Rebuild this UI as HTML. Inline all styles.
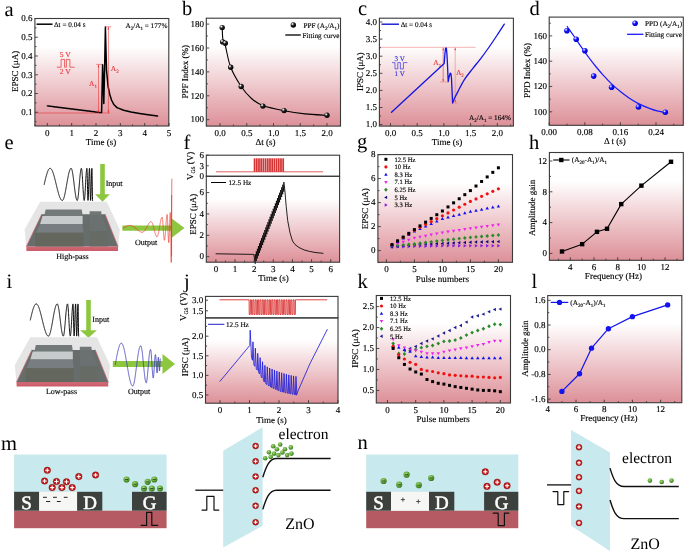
<!DOCTYPE html>
<html><head><meta charset="utf-8"><style>
html,body{margin:0;padding:0;background:#fff;}
svg{display:block;will-change:transform;}
</style></head><body>
<svg width="685" height="553" viewBox="0 0 685 553" text-rendering="geometricPrecision">
<rect x="0" y="0" width="685" height="553" fill="#fff"/>
<defs>
<linearGradient id="grad" x1="0" y1="0" x2="0" y2="1">
<stop offset="0" stop-color="#ffffff"/>
<stop offset="0.26" stop-color="#ffffff"/>
<stop offset="1" stop-color="#dd9098"/>
</linearGradient>
<radialGradient id="sph_black" cx="0.35" cy="0.32" r="0.7">
<stop offset="0" stop-color="#ffffff"/>
<stop offset="0.18" stop-color="#bbbbbb"/>
<stop offset="0.4" stop-color="#222"/>
<stop offset="1" stop-color="#000"/>
</radialGradient>
<radialGradient id="sph_blue" cx="0.35" cy="0.32" r="0.7">
<stop offset="0" stop-color="#ffffff"/>
<stop offset="0.18" stop-color="#9a9aff"/>
<stop offset="0.42" stop-color="#1414ff"/>
<stop offset="1" stop-color="#0000c8"/>
</radialGradient>
<radialGradient id="ion_red" cx="0.5" cy="0.5" r="0.5">
<stop offset="0" stop-color="#e03030"/>
<stop offset="0.75" stop-color="#c41a1a"/>
<stop offset="1" stop-color="#8a0f0f"/>
</radialGradient>
<radialGradient id="ion_green" cx="0.4" cy="0.35" r="0.6">
<stop offset="0" stop-color="#a8d878"/>
<stop offset="0.6" stop-color="#5fa83a"/>
<stop offset="1" stop-color="#3e7a22"/>
</radialGradient>
</defs>
<rect x="34.9" y="18.5" width="133.9" height="107.5" fill="url(#grad)" stroke="none" stroke-width="1"/>
<line x1="34.9" y1="113" x2="110" y2="113" stroke="#e8383a" stroke-width="0.6"/>
<polyline points="47.3,105.88 48.64,106.04 49.98,106.21 51.32,106.38 52.66,106.55 54,106.72 55.34,106.89 56.67,107.06 58.01,107.22 59.35,107.39 60.69,107.56 62.03,107.73 63.37,107.9 64.71,108.07 66.05,108.24 67.39,108.41 68.73,108.57 70.07,108.74 71.41,108.91 72.75,109.08 74.08,109.25 75.42,109.42 76.76,109.59 78.1,109.76 79.44,109.92 80.78,110.09 82.12,110.26 83.46,110.43 84.8,110.6 86.14,110.77 87.48,110.94 88.82,111.11 90.16,111.27 91.5,111.44 92.83,111.61 94.17,111.78 95.51,111.95 96.85,112.12 98.19,112.29 99.53,112.46 100.87,112.62 101.6,112.6 102.6,64.7 103.2,80 103.8,103.5 104.6,70 105.4,26.9 106.5,70 108,86 109.8,94.5 111.5,100 113.8,104.5 117,107.6 123.7,110.2 131,112 139.6,113.5 148,114.8 157.5,116.1" fill="none" stroke="#000" stroke-width="1.5" stroke-linejoin="round" stroke-linecap="round"/>
<line x1="98.5" y1="65" x2="98.5" y2="112.5" stroke="#e8383a" stroke-width="0.6"/>
<line x1="96.3" y1="64.4" x2="102.3" y2="64.4" stroke="#e8383a" stroke-width="0.6"/>
<polygon points="98.5,64.6 97.6,67.2 99.4,67.2" fill="#e8383a" stroke="none" stroke-width="1"/>
<polygon points="98.5,112.8 97.6,110.2 99.4,110.2" fill="#e8383a" stroke="none" stroke-width="1"/>
<line x1="108.4" y1="27" x2="108.4" y2="113" stroke="#e8383a" stroke-width="0.6"/>
<line x1="104.9" y1="26.8" x2="111.2" y2="26.8" stroke="#e8383a" stroke-width="0.6"/>
<polygon points="108.4,27 107.5,29.6 109.3,29.6" fill="#e8383a" stroke="none" stroke-width="1"/>
<polygon points="108.4,113.2 107.5,110.6 109.3,110.6" fill="#e8383a" stroke="none" stroke-width="1"/>
<text x="89" y="86.3" font-family="Liberation Serif" font-size="7.5" text-anchor="start" fill="#e8383a" stroke="#e8383a" stroke-width="0.14">A<tspan font-size="5" baseline-shift="-1.5">1</tspan></text>
<text x="110.8" y="71" font-family="Liberation Serif" font-size="7.5" text-anchor="start" fill="#e8383a" stroke="#e8383a" stroke-width="0.14">A<tspan font-size="5" baseline-shift="-1.5">2</tspan></text>
<text x="65.3" y="56.6" font-family="Liberation Serif" font-size="7.6" text-anchor="middle" fill="#e8383a" stroke="#e8383a" stroke-width="0.14">5 V</text>
<polyline points="57.2,67.2 61.1,67.2 61.1,59.4 64.6,59.4 64.6,67.2 66.4,67.2 66.4,59.4 69.9,59.4 69.9,67.2 74.4,67.2" fill="none" stroke="#e8383a" stroke-width="0.75" stroke-linejoin="round" stroke-linecap="round"/>
<text x="65.3" y="74.3" font-family="Liberation Serif" font-size="7.6" text-anchor="middle" fill="#e8383a" stroke="#e8383a" stroke-width="0.14">2 V</text>
<line x1="36.5" y1="24.2" x2="52.5" y2="24.2" stroke="#000" stroke-width="1.5"/>
<text x="54" y="26.7" font-family="Liberation Serif" font-size="7.2" text-anchor="start" fill="#000" stroke="#000" stroke-width="0.14">Δt = 0.04 s</text>
<text x="167.4" y="27.5" font-family="Liberation Serif" font-size="7.2" text-anchor="end" fill="#000" stroke="#000" stroke-width="0.14">A<tspan font-size="5" baseline-shift="-1.5">2</tspan>/A<tspan font-size="5" baseline-shift="-1.5">1</tspan> = 177%</text>
<line x1="47.3" y1="126" x2="47.3" y2="123" stroke="#3a3a3a" stroke-width="0.9"/>
<line x1="71.65" y1="126" x2="71.65" y2="123" stroke="#3a3a3a" stroke-width="0.9"/>
<line x1="96" y1="126" x2="96" y2="123" stroke="#3a3a3a" stroke-width="0.9"/>
<line x1="120.35" y1="126" x2="120.35" y2="123" stroke="#3a3a3a" stroke-width="0.9"/>
<line x1="144.7" y1="126" x2="144.7" y2="123" stroke="#3a3a3a" stroke-width="0.9"/>
<line x1="169.05" y1="126" x2="169.05" y2="123" stroke="#3a3a3a" stroke-width="0.9"/>
<line x1="35.12" y1="126" x2="35.12" y2="124.4" stroke="#3a3a3a" stroke-width="0.9"/>
<line x1="59.47" y1="126" x2="59.47" y2="124.4" stroke="#3a3a3a" stroke-width="0.9"/>
<line x1="83.82" y1="126" x2="83.82" y2="124.4" stroke="#3a3a3a" stroke-width="0.9"/>
<line x1="108.17" y1="126" x2="108.17" y2="124.4" stroke="#3a3a3a" stroke-width="0.9"/>
<line x1="132.52" y1="126" x2="132.52" y2="124.4" stroke="#3a3a3a" stroke-width="0.9"/>
<line x1="156.88" y1="126" x2="156.88" y2="124.4" stroke="#3a3a3a" stroke-width="0.9"/>
<line x1="34.9" y1="112.25" x2="37.9" y2="112.25" stroke="#3a3a3a" stroke-width="0.9"/>
<line x1="34.9" y1="93.5" x2="37.9" y2="93.5" stroke="#3a3a3a" stroke-width="0.9"/>
<line x1="34.9" y1="74.75" x2="37.9" y2="74.75" stroke="#3a3a3a" stroke-width="0.9"/>
<line x1="34.9" y1="56" x2="37.9" y2="56" stroke="#3a3a3a" stroke-width="0.9"/>
<line x1="34.9" y1="37.25" x2="37.9" y2="37.25" stroke="#3a3a3a" stroke-width="0.9"/>
<line x1="34.9" y1="18.5" x2="37.9" y2="18.5" stroke="#3a3a3a" stroke-width="0.9"/>
<line x1="34.9" y1="121.62" x2="36.5" y2="121.62" stroke="#3a3a3a" stroke-width="0.9"/>
<line x1="34.9" y1="102.87" x2="36.5" y2="102.87" stroke="#3a3a3a" stroke-width="0.9"/>
<line x1="34.9" y1="84.12" x2="36.5" y2="84.12" stroke="#3a3a3a" stroke-width="0.9"/>
<line x1="34.9" y1="65.38" x2="36.5" y2="65.38" stroke="#3a3a3a" stroke-width="0.9"/>
<line x1="34.9" y1="46.62" x2="36.5" y2="46.62" stroke="#3a3a3a" stroke-width="0.9"/>
<line x1="34.9" y1="27.87" x2="36.5" y2="27.87" stroke="#3a3a3a" stroke-width="0.9"/>
<rect x="34.9" y="18.5" width="133.9" height="107.5" fill="none" stroke="#3a3a3a" stroke-width="1.1"/>
<text x="47.3" y="135.5" font-family="Liberation Serif" font-size="9" text-anchor="middle" fill="#000" stroke="#000" stroke-width="0.14">0</text>
<text x="71.65" y="135.5" font-family="Liberation Serif" font-size="9" text-anchor="middle" fill="#000" stroke="#000" stroke-width="0.14">1</text>
<text x="96" y="135.5" font-family="Liberation Serif" font-size="9" text-anchor="middle" fill="#000" stroke="#000" stroke-width="0.14">2</text>
<text x="120.35" y="135.5" font-family="Liberation Serif" font-size="9" text-anchor="middle" fill="#000" stroke="#000" stroke-width="0.14">3</text>
<text x="144.7" y="135.5" font-family="Liberation Serif" font-size="9" text-anchor="middle" fill="#000" stroke="#000" stroke-width="0.14">4</text>
<text x="169.05" y="135.5" font-family="Liberation Serif" font-size="9" text-anchor="middle" fill="#000" stroke="#000" stroke-width="0.14">5</text>
<text x="32.6" y="115.04" font-family="Liberation Serif" font-size="9" text-anchor="end" fill="#000" stroke="#000" stroke-width="0.14">0.1</text>
<text x="32.6" y="96.29" font-family="Liberation Serif" font-size="9" text-anchor="end" fill="#000" stroke="#000" stroke-width="0.14">0.2</text>
<text x="32.6" y="77.54" font-family="Liberation Serif" font-size="9" text-anchor="end" fill="#000" stroke="#000" stroke-width="0.14">0.3</text>
<text x="32.6" y="58.79" font-family="Liberation Serif" font-size="9" text-anchor="end" fill="#000" stroke="#000" stroke-width="0.14">0.4</text>
<text x="32.6" y="40.04" font-family="Liberation Serif" font-size="9" text-anchor="end" fill="#000" stroke="#000" stroke-width="0.14">0.5</text>
<text x="32.6" y="21.29" font-family="Liberation Serif" font-size="9" text-anchor="end" fill="#000" stroke="#000" stroke-width="0.14">0.6</text>
<text x="18.5" y="71.4" font-family="Liberation Serif" font-size="9" text-anchor="middle" fill="#000" transform="rotate(-90 18.5 71.4)" stroke="#000" stroke-width="0.14">EPSC (μA)</text>
<text x="101" y="145.4" font-family="Liberation Serif" font-size="9" text-anchor="middle" fill="#000" stroke="#000" stroke-width="0.14">Time (s)</text>
<text x="4.5" y="15.7" font-family="Liberation Serif" font-size="20.5" text-anchor="start" fill="#000">a</text>
<rect x="206.3" y="18.2" width="134.2" height="107.9" fill="url(#grad)" stroke="none" stroke-width="1"/>
<path d="M222.2,27.6 C222.32,29.58 222.38,36.52 222.9,39.5 C223.42,42.48 224,40.87 225.3,45.5 C226.6,50.13 228.05,60.47 230.7,67.3 C233.35,74.13 237.73,81.3 241.2,86.5 C244.67,91.7 247.88,95.32 251.5,98.5 C255.12,101.68 257.47,103.55 262.9,105.6 C268.33,107.65 277.08,109.42 284.1,110.8 C291.12,112.18 297.85,113.15 305,113.9 C312.15,114.65 323.33,115.07 327,115.3" fill="none" stroke="#000" stroke-width="1.1" stroke-linejoin="round" stroke-linecap="round"/>
<circle cx="222.2" cy="27.6" r="2.7" fill="url(#sph_black)"/>
<circle cx="222.7" cy="41.9" r="2.7" fill="url(#sph_black)"/>
<circle cx="225.3" cy="43.2" r="2.7" fill="url(#sph_black)"/>
<circle cx="230.7" cy="67.3" r="2.7" fill="url(#sph_black)"/>
<circle cx="241.2" cy="86.5" r="2.7" fill="url(#sph_black)"/>
<circle cx="262.9" cy="106.1" r="2.7" fill="url(#sph_black)"/>
<circle cx="284.1" cy="110.6" r="2.7" fill="url(#sph_black)"/>
<circle cx="327" cy="115.3" r="2.7" fill="url(#sph_black)"/>
<circle cx="293.3" cy="25" r="2.7" fill="url(#sph_black)"/>
<text x="303.5" y="27.6" font-family="Liberation Serif" font-size="7.2" text-anchor="start" fill="#000" stroke="#000" stroke-width="0.14">PPF (A<tspan font-size="5" baseline-shift="-1.5">2</tspan>/A<tspan font-size="5" baseline-shift="-1.5">1</tspan>)</text>
<line x1="285.3" y1="35" x2="300.8" y2="35" stroke="#000" stroke-width="1.3"/>
<text x="302.5" y="37.5" font-family="Liberation Serif" font-size="7.2" text-anchor="start" fill="#000" stroke="#000" stroke-width="0.14">Fitting curve</text>
<line x1="220" y1="126.1" x2="220" y2="123.1" stroke="#3a3a3a" stroke-width="0.9"/>
<line x1="246.75" y1="126.1" x2="246.75" y2="123.1" stroke="#3a3a3a" stroke-width="0.9"/>
<line x1="273.5" y1="126.1" x2="273.5" y2="123.1" stroke="#3a3a3a" stroke-width="0.9"/>
<line x1="300.25" y1="126.1" x2="300.25" y2="123.1" stroke="#3a3a3a" stroke-width="0.9"/>
<line x1="327" y1="126.1" x2="327" y2="123.1" stroke="#3a3a3a" stroke-width="0.9"/>
<line x1="233.38" y1="126.1" x2="233.38" y2="124.5" stroke="#3a3a3a" stroke-width="0.9"/>
<line x1="260.12" y1="126.1" x2="260.12" y2="124.5" stroke="#3a3a3a" stroke-width="0.9"/>
<line x1="286.88" y1="126.1" x2="286.88" y2="124.5" stroke="#3a3a3a" stroke-width="0.9"/>
<line x1="313.62" y1="126.1" x2="313.62" y2="124.5" stroke="#3a3a3a" stroke-width="0.9"/>
<line x1="340.38" y1="126.1" x2="340.38" y2="124.5" stroke="#3a3a3a" stroke-width="0.9"/>
<line x1="206.62" y1="126.1" x2="206.62" y2="124.5" stroke="#3a3a3a" stroke-width="0.9"/>
<line x1="206.3" y1="119.7" x2="209.3" y2="119.7" stroke="#3a3a3a" stroke-width="0.9"/>
<line x1="206.3" y1="95.8" x2="209.3" y2="95.8" stroke="#3a3a3a" stroke-width="0.9"/>
<line x1="206.3" y1="71.9" x2="209.3" y2="71.9" stroke="#3a3a3a" stroke-width="0.9"/>
<line x1="206.3" y1="48" x2="209.3" y2="48" stroke="#3a3a3a" stroke-width="0.9"/>
<line x1="206.3" y1="24.1" x2="209.3" y2="24.1" stroke="#3a3a3a" stroke-width="0.9"/>
<line x1="206.3" y1="107.75" x2="207.9" y2="107.75" stroke="#3a3a3a" stroke-width="0.9"/>
<line x1="206.3" y1="83.85" x2="207.9" y2="83.85" stroke="#3a3a3a" stroke-width="0.9"/>
<line x1="206.3" y1="59.95" x2="207.9" y2="59.95" stroke="#3a3a3a" stroke-width="0.9"/>
<line x1="206.3" y1="36.05" x2="207.9" y2="36.05" stroke="#3a3a3a" stroke-width="0.9"/>
<rect x="206.3" y="18.2" width="134.2" height="107.9" fill="none" stroke="#3a3a3a" stroke-width="1.1"/>
<text x="220" y="135.6" font-family="Liberation Serif" font-size="9" text-anchor="middle" fill="#000" stroke="#000" stroke-width="0.14">0.0</text>
<text x="246.75" y="135.6" font-family="Liberation Serif" font-size="9" text-anchor="middle" fill="#000" stroke="#000" stroke-width="0.14">0.5</text>
<text x="273.5" y="135.6" font-family="Liberation Serif" font-size="9" text-anchor="middle" fill="#000" stroke="#000" stroke-width="0.14">1.0</text>
<text x="300.25" y="135.6" font-family="Liberation Serif" font-size="9" text-anchor="middle" fill="#000" stroke="#000" stroke-width="0.14">1.5</text>
<text x="327" y="135.6" font-family="Liberation Serif" font-size="9" text-anchor="middle" fill="#000" stroke="#000" stroke-width="0.14">2.0</text>
<text x="204" y="122.49" font-family="Liberation Serif" font-size="9" text-anchor="end" fill="#000" stroke="#000" stroke-width="0.14">100</text>
<text x="204" y="98.59" font-family="Liberation Serif" font-size="9" text-anchor="end" fill="#000" stroke="#000" stroke-width="0.14">120</text>
<text x="204" y="74.69" font-family="Liberation Serif" font-size="9" text-anchor="end" fill="#000" stroke="#000" stroke-width="0.14">140</text>
<text x="204" y="50.79" font-family="Liberation Serif" font-size="9" text-anchor="end" fill="#000" stroke="#000" stroke-width="0.14">160</text>
<text x="204" y="26.89" font-family="Liberation Serif" font-size="9" text-anchor="end" fill="#000" stroke="#000" stroke-width="0.14">180</text>
<text x="188" y="71.7" font-family="Liberation Serif" font-size="9" text-anchor="middle" fill="#000" transform="rotate(-90 188 71.7)" stroke="#000" stroke-width="0.14">PPF Index (%)</text>
<text x="265.5" y="145" font-family="Liberation Serif" font-size="9" text-anchor="middle" fill="#000" stroke="#000" stroke-width="0.14">Δt (s)</text>
<text x="182" y="14.9" font-family="Liberation Serif" font-size="20.5" text-anchor="start" fill="#000">b</text>
<rect x="379.4" y="18.2" width="134" height="107.9" fill="url(#grad)" stroke="none" stroke-width="1"/>
<line x1="380" y1="47.3" x2="475.6" y2="47.3" stroke="#f08080" stroke-width="0.6"/>
<line x1="439.9" y1="82" x2="447.9" y2="82" stroke="#f08080" stroke-width="0.6"/>
<line x1="451.5" y1="103" x2="458.1" y2="103" stroke="#f08080" stroke-width="0.6"/>
<line x1="443.2" y1="47.8" x2="443.2" y2="81.6" stroke="#e8383a" stroke-width="0.6"/>
<polygon points="443.2,47.6 442.4,50.2 444,50.2" fill="#e8383a" stroke="none" stroke-width="1"/>
<polygon points="443.2,81.8 442.4,79.2 444,79.2" fill="#e8383a" stroke="none" stroke-width="1"/>
<line x1="455.2" y1="47.8" x2="455.2" y2="102.6" stroke="#f08080" stroke-width="0.6"/>
<polygon points="455.2,47.6 454.4,50.2 456,50.2" fill="#e8383a" stroke="none" stroke-width="1"/>
<polygon points="455.2,102.8 454.4,100.2 456,100.2" fill="#e8383a" stroke="none" stroke-width="1"/>
<text x="433.3" y="64.6" font-family="Liberation Serif" font-size="7.5" text-anchor="start" fill="#e8383a" stroke="#e8383a" stroke-width="0.14">A<tspan font-size="5" baseline-shift="-1.5">1</tspan></text>
<text x="455.9" y="74.8" font-family="Liberation Serif" font-size="7.5" text-anchor="start" fill="#e8383a" stroke="#e8383a" stroke-width="0.14">A<tspan font-size="5" baseline-shift="-1.5">2</tspan></text>
<polyline points="391.5,112.2 444.2,63.4 445.1,52 445.6,48.2 446.4,48.2 447,55 447.5,65 448.2,81.6 449.1,77 450.2,73.2 450.9,73.5 451.5,78.5 452,90 452.6,102.8" fill="none" stroke="#1414e0" stroke-width="1.3" stroke-linejoin="round" stroke-linecap="round"/>
<path d="M452.6,102.8 C453,101.88 454.12,99.17 455,97.3 C455.88,95.43 456.33,94.55 457.9,91.6 C459.47,88.65 461.97,83.4 464.4,79.6 C466.83,75.8 469.78,72.3 472.5,68.8 C475.22,65.3 477.98,62.15 480.7,58.6 C483.42,55.05 486.1,51.35 488.8,47.5 C491.5,43.65 494.32,39.4 496.9,35.5 C499.48,31.6 503.07,26 504.3,24.1" fill="none" stroke="#1414e0" stroke-width="1.3" stroke-linejoin="round" stroke-linecap="round"/>
<text x="399.7" y="60.6" font-family="Liberation Serif" font-size="7" text-anchor="middle" fill="#3030e0" stroke="#3030e0" stroke-width="0.14">3 V</text>
<polyline points="392.4,62.6 395,62.6 395,68.9 397.8,68.9 397.8,62.6 400.4,62.6 400.4,68.9 403.4,68.9 403.4,62.6 407,62.6" fill="none" stroke="#3030e0" stroke-width="0.7" stroke-linejoin="round" stroke-linecap="round"/>
<text x="399.7" y="76.2" font-family="Liberation Serif" font-size="7" text-anchor="middle" fill="#3030e0" stroke="#3030e0" stroke-width="0.14">1 V</text>
<line x1="381.5" y1="24.2" x2="399" y2="24.2" stroke="#1414d2" stroke-width="1.4"/>
<text x="400.7" y="26.7" font-family="Liberation Serif" font-size="7.2" text-anchor="start" fill="#000" stroke="#000" stroke-width="0.14">Δt = 0.04 s</text>
<text x="510.9" y="120.2" font-family="Liberation Serif" font-size="7.2" text-anchor="end" fill="#000" stroke="#000" stroke-width="0.14">A<tspan font-size="5" baseline-shift="-1.5">2</tspan>/A<tspan font-size="5" baseline-shift="-1.5">1</tspan> = 164%</text>
<line x1="390.5" y1="126.1" x2="390.5" y2="123.1" stroke="#3a3a3a" stroke-width="0.9"/>
<line x1="417.2" y1="126.1" x2="417.2" y2="123.1" stroke="#3a3a3a" stroke-width="0.9"/>
<line x1="443.9" y1="126.1" x2="443.9" y2="123.1" stroke="#3a3a3a" stroke-width="0.9"/>
<line x1="470.6" y1="126.1" x2="470.6" y2="123.1" stroke="#3a3a3a" stroke-width="0.9"/>
<line x1="497.3" y1="126.1" x2="497.3" y2="123.1" stroke="#3a3a3a" stroke-width="0.9"/>
<line x1="403.85" y1="126.1" x2="403.85" y2="124.5" stroke="#3a3a3a" stroke-width="0.9"/>
<line x1="430.55" y1="126.1" x2="430.55" y2="124.5" stroke="#3a3a3a" stroke-width="0.9"/>
<line x1="457.25" y1="126.1" x2="457.25" y2="124.5" stroke="#3a3a3a" stroke-width="0.9"/>
<line x1="483.95" y1="126.1" x2="483.95" y2="124.5" stroke="#3a3a3a" stroke-width="0.9"/>
<line x1="510.65" y1="126.1" x2="510.65" y2="124.5" stroke="#3a3a3a" stroke-width="0.9"/>
<line x1="379.4" y1="124.6" x2="382.4" y2="124.6" stroke="#3a3a3a" stroke-width="0.9"/>
<line x1="379.4" y1="107.5" x2="382.4" y2="107.5" stroke="#3a3a3a" stroke-width="0.9"/>
<line x1="379.4" y1="90.4" x2="382.4" y2="90.4" stroke="#3a3a3a" stroke-width="0.9"/>
<line x1="379.4" y1="73.3" x2="382.4" y2="73.3" stroke="#3a3a3a" stroke-width="0.9"/>
<line x1="379.4" y1="56.2" x2="382.4" y2="56.2" stroke="#3a3a3a" stroke-width="0.9"/>
<line x1="379.4" y1="39.1" x2="382.4" y2="39.1" stroke="#3a3a3a" stroke-width="0.9"/>
<line x1="379.4" y1="22" x2="382.4" y2="22" stroke="#3a3a3a" stroke-width="0.9"/>
<line x1="379.4" y1="116.05" x2="381" y2="116.05" stroke="#3a3a3a" stroke-width="0.9"/>
<line x1="379.4" y1="98.95" x2="381" y2="98.95" stroke="#3a3a3a" stroke-width="0.9"/>
<line x1="379.4" y1="81.85" x2="381" y2="81.85" stroke="#3a3a3a" stroke-width="0.9"/>
<line x1="379.4" y1="64.75" x2="381" y2="64.75" stroke="#3a3a3a" stroke-width="0.9"/>
<line x1="379.4" y1="47.65" x2="381" y2="47.65" stroke="#3a3a3a" stroke-width="0.9"/>
<line x1="379.4" y1="30.55" x2="381" y2="30.55" stroke="#3a3a3a" stroke-width="0.9"/>
<rect x="379.4" y="18.2" width="134" height="107.9" fill="none" stroke="#3a3a3a" stroke-width="1.1"/>
<text x="390.5" y="135.6" font-family="Liberation Serif" font-size="9" text-anchor="middle" fill="#000" stroke="#000" stroke-width="0.14">0.0</text>
<text x="417.2" y="135.6" font-family="Liberation Serif" font-size="9" text-anchor="middle" fill="#000" stroke="#000" stroke-width="0.14">0.5</text>
<text x="443.9" y="135.6" font-family="Liberation Serif" font-size="9" text-anchor="middle" fill="#000" stroke="#000" stroke-width="0.14">1.0</text>
<text x="470.6" y="135.6" font-family="Liberation Serif" font-size="9" text-anchor="middle" fill="#000" stroke="#000" stroke-width="0.14">1.5</text>
<text x="497.3" y="135.6" font-family="Liberation Serif" font-size="9" text-anchor="middle" fill="#000" stroke="#000" stroke-width="0.14">2.0</text>
<text x="377.1" y="127.39" font-family="Liberation Serif" font-size="9" text-anchor="end" fill="#000" stroke="#000" stroke-width="0.14">1.0</text>
<text x="377.1" y="110.29" font-family="Liberation Serif" font-size="9" text-anchor="end" fill="#000" stroke="#000" stroke-width="0.14">1.5</text>
<text x="377.1" y="93.19" font-family="Liberation Serif" font-size="9" text-anchor="end" fill="#000" stroke="#000" stroke-width="0.14">2.0</text>
<text x="377.1" y="76.09" font-family="Liberation Serif" font-size="9" text-anchor="end" fill="#000" stroke="#000" stroke-width="0.14">2.5</text>
<text x="377.1" y="58.99" font-family="Liberation Serif" font-size="9" text-anchor="end" fill="#000" stroke="#000" stroke-width="0.14">3.0</text>
<text x="377.1" y="41.89" font-family="Liberation Serif" font-size="9" text-anchor="end" fill="#000" stroke="#000" stroke-width="0.14">3.5</text>
<text x="377.1" y="24.79" font-family="Liberation Serif" font-size="9" text-anchor="end" fill="#000" stroke="#000" stroke-width="0.14">4.0</text>
<text x="363" y="71.7" font-family="Liberation Serif" font-size="9" text-anchor="middle" fill="#000" transform="rotate(-90 363 71.7)" stroke="#000" stroke-width="0.14">IPSC (μA)</text>
<text x="447" y="145" font-family="Liberation Serif" font-size="9" text-anchor="middle" fill="#000" stroke="#000" stroke-width="0.14">Time (s)</text>
<text x="358" y="15" font-family="Liberation Serif" font-size="20.5" text-anchor="start" fill="#000">c</text>
<rect x="549.2" y="17.1" width="134.1" height="108.2" fill="url(#grad)" stroke="none" stroke-width="1"/>
<path d="M567.2,26.5 C568.42,28.25 572.08,33.48 574.5,37 C576.92,40.52 579.3,44.17 581.7,47.6 C584.1,51.03 586.48,54.37 588.9,57.6 C591.32,60.83 593.78,64.05 596.2,67 C598.62,69.95 600.88,72.53 603.4,75.3 C605.92,78.07 608.42,80.85 611.3,83.6 C614.18,86.35 617.68,89.37 620.7,91.8 C623.72,94.23 626.43,96.23 629.4,98.2 C632.37,100.17 635.17,101.9 638.5,103.6 C641.83,105.3 646.32,107.18 649.4,108.4 C652.48,109.62 654.35,110.2 657,110.9 C659.65,111.6 663.92,112.32 665.3,112.6" fill="none" stroke="#1a1aff" stroke-width="1.2" stroke-linejoin="round" stroke-linecap="round"/>
<circle cx="566.9" cy="30.8" r="2.8" fill="url(#sph_blue)"/>
<circle cx="576.2" cy="39.2" r="2.8" fill="url(#sph_blue)"/>
<circle cx="584.9" cy="50.7" r="2.8" fill="url(#sph_blue)"/>
<circle cx="593.7" cy="76.1" r="2.8" fill="url(#sph_blue)"/>
<circle cx="611.6" cy="87.3" r="2.8" fill="url(#sph_blue)"/>
<circle cx="638.5" cy="107" r="2.8" fill="url(#sph_blue)"/>
<circle cx="665.3" cy="112.2" r="2.8" fill="url(#sph_blue)"/>
<circle cx="635.1" cy="23.3" r="2.8" fill="url(#sph_blue)"/>
<text x="645" y="26.3" font-family="Liberation Serif" font-size="7.2" text-anchor="start" fill="#000" stroke="#000" stroke-width="0.14">PPD (A<tspan font-size="5" baseline-shift="-1.5">2</tspan>/A<tspan font-size="5" baseline-shift="-1.5">1</tspan>)</text>
<line x1="627.1" y1="34.3" x2="643.4" y2="34.3" stroke="#1a1aff" stroke-width="1.3"/>
<text x="645" y="36.9" font-family="Liberation Serif" font-size="7.2" text-anchor="start" fill="#000" stroke="#000" stroke-width="0.14">Fitting curve</text>
<line x1="549.2" y1="125.3" x2="549.2" y2="122.3" stroke="#3a3a3a" stroke-width="0.9"/>
<line x1="584.8" y1="125.3" x2="584.8" y2="122.3" stroke="#3a3a3a" stroke-width="0.9"/>
<line x1="620.4" y1="125.3" x2="620.4" y2="122.3" stroke="#3a3a3a" stroke-width="0.9"/>
<line x1="656" y1="125.3" x2="656" y2="122.3" stroke="#3a3a3a" stroke-width="0.9"/>
<line x1="567" y1="125.3" x2="567" y2="123.7" stroke="#3a3a3a" stroke-width="0.9"/>
<line x1="602.6" y1="125.3" x2="602.6" y2="123.7" stroke="#3a3a3a" stroke-width="0.9"/>
<line x1="638.2" y1="125.3" x2="638.2" y2="123.7" stroke="#3a3a3a" stroke-width="0.9"/>
<line x1="673.8" y1="125.3" x2="673.8" y2="123.7" stroke="#3a3a3a" stroke-width="0.9"/>
<line x1="549.2" y1="111.8" x2="552.2" y2="111.8" stroke="#3a3a3a" stroke-width="0.9"/>
<line x1="549.2" y1="86.5" x2="552.2" y2="86.5" stroke="#3a3a3a" stroke-width="0.9"/>
<line x1="549.2" y1="61.2" x2="552.2" y2="61.2" stroke="#3a3a3a" stroke-width="0.9"/>
<line x1="549.2" y1="35.9" x2="552.2" y2="35.9" stroke="#3a3a3a" stroke-width="0.9"/>
<line x1="549.2" y1="99.15" x2="550.8" y2="99.15" stroke="#3a3a3a" stroke-width="0.9"/>
<line x1="549.2" y1="73.85" x2="550.8" y2="73.85" stroke="#3a3a3a" stroke-width="0.9"/>
<line x1="549.2" y1="48.55" x2="550.8" y2="48.55" stroke="#3a3a3a" stroke-width="0.9"/>
<line x1="549.2" y1="23.25" x2="550.8" y2="23.25" stroke="#3a3a3a" stroke-width="0.9"/>
<rect x="549.2" y="17.1" width="134.1" height="108.2" fill="none" stroke="#3a3a3a" stroke-width="1.1"/>
<text x="549.2" y="134.8" font-family="Liberation Serif" font-size="9" text-anchor="middle" fill="#000" stroke="#000" stroke-width="0.14">0.00</text>
<text x="584.8" y="134.8" font-family="Liberation Serif" font-size="9" text-anchor="middle" fill="#000" stroke="#000" stroke-width="0.14">0.08</text>
<text x="620.4" y="134.8" font-family="Liberation Serif" font-size="9" text-anchor="middle" fill="#000" stroke="#000" stroke-width="0.14">0.16</text>
<text x="656" y="134.8" font-family="Liberation Serif" font-size="9" text-anchor="middle" fill="#000" stroke="#000" stroke-width="0.14">0.24</text>
<text x="546.9" y="114.59" font-family="Liberation Serif" font-size="9" text-anchor="end" fill="#000" stroke="#000" stroke-width="0.14">100</text>
<text x="546.9" y="89.29" font-family="Liberation Serif" font-size="9" text-anchor="end" fill="#000" stroke="#000" stroke-width="0.14">120</text>
<text x="546.9" y="63.99" font-family="Liberation Serif" font-size="9" text-anchor="end" fill="#000" stroke="#000" stroke-width="0.14">140</text>
<text x="546.9" y="38.69" font-family="Liberation Serif" font-size="9" text-anchor="end" fill="#000" stroke="#000" stroke-width="0.14">160</text>
<text x="530" y="70.4" font-family="Liberation Serif" font-size="9" text-anchor="middle" fill="#000" transform="rotate(-90 530 70.4)" stroke="#000" stroke-width="0.14">PPD Index (%)</text>
<text x="614.8" y="144.3" font-family="Liberation Serif" font-size="9" text-anchor="middle" fill="#000" stroke="#000" stroke-width="0.14">Δ t (s)</text>
<text x="529.5" y="15.4" font-family="Liberation Serif" font-size="20.5" text-anchor="start" fill="#000">d</text>
<rect x="206.3" y="155.2" width="133.3" height="21.1" fill="#fff" stroke="none" stroke-width="1"/>
<rect x="206.3" y="176.3" width="133.3" height="85.9" fill="url(#grad)" stroke="none" stroke-width="1"/>
<line x1="216" y1="171.8" x2="323" y2="171.8" stroke="#d83a3a" stroke-width="0.8"/>
<rect x="253.7" y="158.3" width="1.76" height="13.5" fill="#d43434" stroke="none" stroke-width="1"/>
<rect x="255.9" y="158.3" width="1.76" height="13.5" fill="#d43434" stroke="none" stroke-width="1"/>
<rect x="258.1" y="158.3" width="1.76" height="13.5" fill="#d43434" stroke="none" stroke-width="1"/>
<rect x="260.3" y="158.3" width="1.76" height="13.5" fill="#d43434" stroke="none" stroke-width="1"/>
<rect x="262.5" y="158.3" width="1.76" height="13.5" fill="#d43434" stroke="none" stroke-width="1"/>
<rect x="264.7" y="158.3" width="1.76" height="13.5" fill="#d43434" stroke="none" stroke-width="1"/>
<rect x="266.9" y="158.3" width="1.76" height="13.5" fill="#d43434" stroke="none" stroke-width="1"/>
<rect x="269.1" y="158.3" width="1.76" height="13.5" fill="#d43434" stroke="none" stroke-width="1"/>
<rect x="271.3" y="158.3" width="1.76" height="13.5" fill="#d43434" stroke="none" stroke-width="1"/>
<rect x="273.5" y="158.3" width="1.76" height="13.5" fill="#d43434" stroke="none" stroke-width="1"/>
<rect x="275.7" y="158.3" width="1.76" height="13.5" fill="#d43434" stroke="none" stroke-width="1"/>
<rect x="277.9" y="158.3" width="1.76" height="13.5" fill="#d43434" stroke="none" stroke-width="1"/>
<rect x="280.1" y="158.3" width="1.76" height="13.5" fill="#d43434" stroke="none" stroke-width="1"/>
<rect x="282.3" y="158.3" width="1.76" height="13.5" fill="#d43434" stroke="none" stroke-width="1"/>
<polyline points="216,253.8 253.7,254.4 254.2,256.8 254.2,256.8 255.26,263.63 255.26,254.13 256.31,260.96 256.31,251.46 257.37,258.3 257.37,248.8 258.43,255.63 258.43,246.13 259.49,252.96 259.49,243.46 260.54,250.29 260.54,240.79 261.6,247.62 261.6,238.12 262.66,244.96 262.66,235.46 263.71,242.29 263.71,232.79 264.77,239.62 264.77,230.12 265.83,236.95 265.83,227.45 266.89,234.29 266.89,224.79 267.94,231.62 267.94,222.12 269,228.95 269,219.45 270.06,226.28 270.06,216.78 271.11,223.61 271.11,214.11 272.17,220.95 272.17,211.45 273.23,218.28 273.23,208.78 274.29,215.61 274.29,206.11 275.34,212.94 275.34,203.44 276.4,210.28 276.4,200.78 277.46,207.61 277.46,198.11 278.51,204.94 278.51,195.44 279.57,202.27 279.57,192.77 280.63,199.6 280.63,190.1 281.69,196.94 281.69,187.44 282.74,194.27 282.74,184.77 283.8,191.6 283.8,182.1 284.9,190.7 286.2,206.4 287.7,220.6 290.1,233.2 292.5,241 295,244.5 299,247.5 304,249.9 309.4,251.4 316,252.6 323,253.3" fill="none" stroke="#000" stroke-width="0.85" stroke-linejoin="round" stroke-linecap="round"/>
<line x1="211" y1="182.5" x2="226" y2="182.5" stroke="#000" stroke-width="1.0"/>
<text x="228.5" y="185" font-family="Liberation Serif" font-size="7.2" text-anchor="start" fill="#000" stroke="#000" stroke-width="0.14">12.5 Hz</text>
<line x1="206.3" y1="176.3" x2="208.8" y2="176.3" stroke="#3a3a3a" stroke-width="0.9"/>
<line x1="206.3" y1="165.75" x2="208.8" y2="165.75" stroke="#3a3a3a" stroke-width="0.9"/>
<line x1="206.3" y1="155.2" x2="208.8" y2="155.2" stroke="#3a3a3a" stroke-width="0.9"/>
<rect x="206.3" y="155.2" width="133.3" height="21.1" fill="none" stroke="#3a3a3a" stroke-width="1.1"/>
<text x="204" y="179.09" font-family="Liberation Serif" font-size="9" text-anchor="end" fill="#000" stroke="#000" stroke-width="0.14">0</text>
<text x="204" y="168.54" font-family="Liberation Serif" font-size="9" text-anchor="end" fill="#000" stroke="#000" stroke-width="0.14">3</text>
<text x="204" y="157.99" font-family="Liberation Serif" font-size="9" text-anchor="end" fill="#000" stroke="#000" stroke-width="0.14">6</text>
<line x1="215.9" y1="262.2" x2="215.9" y2="259.2" stroke="#3a3a3a" stroke-width="0.9"/>
<line x1="235.03" y1="262.2" x2="235.03" y2="259.2" stroke="#3a3a3a" stroke-width="0.9"/>
<line x1="254.17" y1="262.2" x2="254.17" y2="259.2" stroke="#3a3a3a" stroke-width="0.9"/>
<line x1="273.3" y1="262.2" x2="273.3" y2="259.2" stroke="#3a3a3a" stroke-width="0.9"/>
<line x1="292.43" y1="262.2" x2="292.43" y2="259.2" stroke="#3a3a3a" stroke-width="0.9"/>
<line x1="311.57" y1="262.2" x2="311.57" y2="259.2" stroke="#3a3a3a" stroke-width="0.9"/>
<line x1="330.7" y1="262.2" x2="330.7" y2="259.2" stroke="#3a3a3a" stroke-width="0.9"/>
<line x1="225.47" y1="262.2" x2="225.47" y2="260.6" stroke="#3a3a3a" stroke-width="0.9"/>
<line x1="244.6" y1="262.2" x2="244.6" y2="260.6" stroke="#3a3a3a" stroke-width="0.9"/>
<line x1="263.73" y1="262.2" x2="263.73" y2="260.6" stroke="#3a3a3a" stroke-width="0.9"/>
<line x1="282.87" y1="262.2" x2="282.87" y2="260.6" stroke="#3a3a3a" stroke-width="0.9"/>
<line x1="302" y1="262.2" x2="302" y2="260.6" stroke="#3a3a3a" stroke-width="0.9"/>
<line x1="321.13" y1="262.2" x2="321.13" y2="260.6" stroke="#3a3a3a" stroke-width="0.9"/>
<line x1="206.3" y1="256.7" x2="209.3" y2="256.7" stroke="#3a3a3a" stroke-width="0.9"/>
<line x1="206.3" y1="235.33" x2="209.3" y2="235.33" stroke="#3a3a3a" stroke-width="0.9"/>
<line x1="206.3" y1="213.97" x2="209.3" y2="213.97" stroke="#3a3a3a" stroke-width="0.9"/>
<line x1="206.3" y1="192.6" x2="209.3" y2="192.6" stroke="#3a3a3a" stroke-width="0.9"/>
<line x1="206.3" y1="246.02" x2="207.9" y2="246.02" stroke="#3a3a3a" stroke-width="0.9"/>
<line x1="206.3" y1="224.65" x2="207.9" y2="224.65" stroke="#3a3a3a" stroke-width="0.9"/>
<line x1="206.3" y1="203.28" x2="207.9" y2="203.28" stroke="#3a3a3a" stroke-width="0.9"/>
<rect x="206.3" y="176.3" width="133.3" height="85.9" fill="none" stroke="#3a3a3a" stroke-width="1.1"/>
<text x="215.9" y="271.7" font-family="Liberation Serif" font-size="9" text-anchor="middle" fill="#000" stroke="#000" stroke-width="0.14">0</text>
<text x="235.03" y="271.7" font-family="Liberation Serif" font-size="9" text-anchor="middle" fill="#000" stroke="#000" stroke-width="0.14">1</text>
<text x="254.17" y="271.7" font-family="Liberation Serif" font-size="9" text-anchor="middle" fill="#000" stroke="#000" stroke-width="0.14">2</text>
<text x="273.3" y="271.7" font-family="Liberation Serif" font-size="9" text-anchor="middle" fill="#000" stroke="#000" stroke-width="0.14">3</text>
<text x="292.43" y="271.7" font-family="Liberation Serif" font-size="9" text-anchor="middle" fill="#000" stroke="#000" stroke-width="0.14">4</text>
<text x="311.57" y="271.7" font-family="Liberation Serif" font-size="9" text-anchor="middle" fill="#000" stroke="#000" stroke-width="0.14">5</text>
<text x="330.7" y="271.7" font-family="Liberation Serif" font-size="9" text-anchor="middle" fill="#000" stroke="#000" stroke-width="0.14">6</text>
<text x="204" y="259.49" font-family="Liberation Serif" font-size="9" text-anchor="end" fill="#000" stroke="#000" stroke-width="0.14">0</text>
<text x="204" y="238.12" font-family="Liberation Serif" font-size="9" text-anchor="end" fill="#000" stroke="#000" stroke-width="0.14">2</text>
<text x="204" y="216.76" font-family="Liberation Serif" font-size="9" text-anchor="end" fill="#000" stroke="#000" stroke-width="0.14">4</text>
<text x="204" y="195.39" font-family="Liberation Serif" font-size="9" text-anchor="end" fill="#000" stroke="#000" stroke-width="0.14">6</text>
<text x="193.5" y="165.9" font-family="Liberation Serif" font-size="9" text-anchor="middle" fill="#000" transform="rotate(-90 193.5 165.9)" stroke="#000" stroke-width="0.14">V<tspan font-size="5.5" baseline-shift="-1.8">GS</tspan> (V)</text>
<text x="196.3" y="214.3" font-family="Liberation Serif" font-size="9" text-anchor="middle" fill="#000" transform="rotate(-90 196.3 214.3)" stroke="#000" stroke-width="0.14">EPSC (μA)</text>
<text x="273.5" y="281" font-family="Liberation Serif" font-size="9" text-anchor="middle" fill="#000" stroke="#000" stroke-width="0.14">Time (s)</text>
<text x="183.5" y="149" font-family="Liberation Serif" font-size="20.5" text-anchor="start" fill="#000">f</text>
<rect x="377.9" y="154.6" width="134.6" height="107.7" fill="url(#grad)" stroke="none" stroke-width="1"/>
<polygon points="393.8,247 390.8,245.28 390.8,248.72" fill="#8a1ae0" stroke="none" stroke-width="1"/>
<polygon points="399.4,246.85 396.4,245.12 396.4,248.57" fill="#8a1ae0" stroke="none" stroke-width="1"/>
<polygon points="405,246.7 402,244.97 402,248.42" fill="#8a1ae0" stroke="none" stroke-width="1"/>
<polygon points="410.6,246.55 407.6,244.82 407.6,248.27" fill="#8a1ae0" stroke="none" stroke-width="1"/>
<polygon points="416.2,246.4 413.2,244.68 413.2,248.12" fill="#8a1ae0" stroke="none" stroke-width="1"/>
<polygon points="421.8,246.28 418.8,244.55 418.8,248" fill="#8a1ae0" stroke="none" stroke-width="1"/>
<polygon points="427.4,246.16 424.4,244.44 424.4,247.88" fill="#8a1ae0" stroke="none" stroke-width="1"/>
<polygon points="433,246.04 430,244.31 430,247.76" fill="#8a1ae0" stroke="none" stroke-width="1"/>
<polygon points="438.6,245.92 435.6,244.2 435.6,247.65" fill="#8a1ae0" stroke="none" stroke-width="1"/>
<polygon points="444.2,245.8 441.2,244.07 441.2,247.52" fill="#8a1ae0" stroke="none" stroke-width="1"/>
<polygon points="449.8,245.8 446.8,244.07 446.8,247.52" fill="#8a1ae0" stroke="none" stroke-width="1"/>
<polygon points="455.4,245.8 452.4,244.07 452.4,247.52" fill="#8a1ae0" stroke="none" stroke-width="1"/>
<polygon points="461,245.8 458,244.07 458,247.52" fill="#8a1ae0" stroke="none" stroke-width="1"/>
<polygon points="466.6,245.8 463.6,244.07 463.6,247.52" fill="#8a1ae0" stroke="none" stroke-width="1"/>
<polygon points="472.2,245.8 469.2,244.07 469.2,247.52" fill="#8a1ae0" stroke="none" stroke-width="1"/>
<polygon points="477.8,245.8 474.8,244.07 474.8,247.52" fill="#8a1ae0" stroke="none" stroke-width="1"/>
<polygon points="483.4,245.8 480.4,244.07 480.4,247.52" fill="#8a1ae0" stroke="none" stroke-width="1"/>
<polygon points="489,245.8 486,244.07 486,247.52" fill="#8a1ae0" stroke="none" stroke-width="1"/>
<polygon points="494.6,245.8 491.6,244.07 491.6,247.52" fill="#8a1ae0" stroke="none" stroke-width="1"/>
<polygon points="500.2,245.8 497.2,244.07 497.2,247.52" fill="#8a1ae0" stroke="none" stroke-width="1"/>
<polygon points="390.2,247 393.2,245.28 393.2,248.72" fill="#0a0a80" stroke="none" stroke-width="1"/>
<polygon points="395.8,246.4 398.8,244.68 398.8,248.12" fill="#0a0a80" stroke="none" stroke-width="1"/>
<polygon points="401.4,245.8 404.4,244.07 404.4,247.52" fill="#0a0a80" stroke="none" stroke-width="1"/>
<polygon points="407,245.2 410,243.47 410,246.92" fill="#0a0a80" stroke="none" stroke-width="1"/>
<polygon points="412.6,244.6 415.6,242.88 415.6,246.32" fill="#0a0a80" stroke="none" stroke-width="1"/>
<polygon points="418.2,244.36 421.2,242.64 421.2,246.09" fill="#0a0a80" stroke="none" stroke-width="1"/>
<polygon points="423.8,244.12 426.8,242.4 426.8,245.84" fill="#0a0a80" stroke="none" stroke-width="1"/>
<polygon points="429.4,243.88 432.4,242.16 432.4,245.6" fill="#0a0a80" stroke="none" stroke-width="1"/>
<polygon points="435,243.64 438,241.91 438,245.36" fill="#0a0a80" stroke="none" stroke-width="1"/>
<polygon points="440.6,243.4 443.6,241.68 443.6,245.12" fill="#0a0a80" stroke="none" stroke-width="1"/>
<polygon points="446.2,243.16 449.2,241.44 449.2,244.88" fill="#0a0a80" stroke="none" stroke-width="1"/>
<polygon points="451.8,242.92 454.8,241.2 454.8,244.65" fill="#0a0a80" stroke="none" stroke-width="1"/>
<polygon points="457.4,242.68 460.4,240.96 460.4,244.41" fill="#0a0a80" stroke="none" stroke-width="1"/>
<polygon points="463,242.44 466,240.72 466,244.16" fill="#0a0a80" stroke="none" stroke-width="1"/>
<polygon points="468.6,242.2 471.6,240.47 471.6,243.92" fill="#0a0a80" stroke="none" stroke-width="1"/>
<polygon points="474.2,242.08 477.2,240.35 477.2,243.8" fill="#0a0a80" stroke="none" stroke-width="1"/>
<polygon points="479.8,241.96 482.8,240.23 482.8,243.68" fill="#0a0a80" stroke="none" stroke-width="1"/>
<polygon points="485.4,241.84 488.4,240.11 488.4,243.56" fill="#0a0a80" stroke="none" stroke-width="1"/>
<polygon points="491,241.72 494,240 494,243.44" fill="#0a0a80" stroke="none" stroke-width="1"/>
<polygon points="496.6,241.6 499.6,239.88 499.6,243.32" fill="#0a0a80" stroke="none" stroke-width="1"/>
<polygon points="392,243.85 393.8,245.8 392,247.75 390.2,245.8" fill="#2a8a2a" stroke="none" stroke-width="1"/>
<polygon points="397.6,243.4 399.4,245.35 397.6,247.3 395.8,245.35" fill="#2a8a2a" stroke="none" stroke-width="1"/>
<polygon points="403.2,242.95 405,244.9 403.2,246.85 401.4,244.9" fill="#2a8a2a" stroke="none" stroke-width="1"/>
<polygon points="408.8,242.5 410.6,244.45 408.8,246.4 407,244.45" fill="#2a8a2a" stroke="none" stroke-width="1"/>
<polygon points="414.4,242.05 416.2,244 414.4,245.95 412.6,244" fill="#2a8a2a" stroke="none" stroke-width="1"/>
<polygon points="420,241.33 421.8,243.28 420,245.23 418.2,243.28" fill="#2a8a2a" stroke="none" stroke-width="1"/>
<polygon points="425.6,240.61 427.4,242.56 425.6,244.51 423.8,242.56" fill="#2a8a2a" stroke="none" stroke-width="1"/>
<polygon points="431.2,239.89 433,241.84 431.2,243.79 429.4,241.84" fill="#2a8a2a" stroke="none" stroke-width="1"/>
<polygon points="436.8,239.17 438.6,241.12 436.8,243.07 435,241.12" fill="#2a8a2a" stroke="none" stroke-width="1"/>
<polygon points="442.4,238.45 444.2,240.4 442.4,242.35 440.6,240.4" fill="#2a8a2a" stroke="none" stroke-width="1"/>
<polygon points="448,237.85 449.8,239.8 448,241.75 446.2,239.8" fill="#2a8a2a" stroke="none" stroke-width="1"/>
<polygon points="453.6,237.25 455.4,239.2 453.6,241.15 451.8,239.2" fill="#2a8a2a" stroke="none" stroke-width="1"/>
<polygon points="459.2,236.65 461,238.6 459.2,240.55 457.4,238.6" fill="#2a8a2a" stroke="none" stroke-width="1"/>
<polygon points="464.8,236.05 466.6,238 464.8,239.95 463,238" fill="#2a8a2a" stroke="none" stroke-width="1"/>
<polygon points="470.4,235.45 472.2,237.4 470.4,239.35 468.6,237.4" fill="#2a8a2a" stroke="none" stroke-width="1"/>
<polygon points="476,234.97 477.8,236.92 476,238.87 474.2,236.92" fill="#2a8a2a" stroke="none" stroke-width="1"/>
<polygon points="481.6,234.49 483.4,236.44 481.6,238.39 479.8,236.44" fill="#2a8a2a" stroke="none" stroke-width="1"/>
<polygon points="487.2,234.01 489,235.96 487.2,237.91 485.4,235.96" fill="#2a8a2a" stroke="none" stroke-width="1"/>
<polygon points="492.8,233.53 494.6,235.48 492.8,237.43 491,235.48" fill="#2a8a2a" stroke="none" stroke-width="1"/>
<polygon points="498.4,233.05 500.2,235 498.4,236.95 496.6,235" fill="#2a8a2a" stroke="none" stroke-width="1"/>
<polygon points="392,247.6 393.73,244.6 390.27,244.6" fill="#f020f0" stroke="none" stroke-width="1"/>
<polygon points="397.6,245.65 399.32,242.65 395.87,242.65" fill="#f020f0" stroke="none" stroke-width="1"/>
<polygon points="403.2,243.7 404.93,240.7 401.47,240.7" fill="#f020f0" stroke="none" stroke-width="1"/>
<polygon points="408.8,241.75 410.52,238.75 407.07,238.75" fill="#f020f0" stroke="none" stroke-width="1"/>
<polygon points="414.4,239.8 416.12,236.8 412.67,236.8" fill="#f020f0" stroke="none" stroke-width="1"/>
<polygon points="420,238.72 421.73,235.72 418.27,235.72" fill="#f020f0" stroke="none" stroke-width="1"/>
<polygon points="425.6,237.64 427.32,234.64 423.87,234.64" fill="#f020f0" stroke="none" stroke-width="1"/>
<polygon points="431.2,236.56 432.93,233.56 429.47,233.56" fill="#f020f0" stroke="none" stroke-width="1"/>
<polygon points="436.8,235.48 438.52,232.48 435.07,232.48" fill="#f020f0" stroke="none" stroke-width="1"/>
<polygon points="442.4,234.4 444.12,231.4 440.67,231.4" fill="#f020f0" stroke="none" stroke-width="1"/>
<polygon points="448,233.56 449.73,230.56 446.27,230.56" fill="#f020f0" stroke="none" stroke-width="1"/>
<polygon points="453.6,232.72 455.32,229.72 451.87,229.72" fill="#f020f0" stroke="none" stroke-width="1"/>
<polygon points="459.2,231.88 460.93,228.88 457.47,228.88" fill="#f020f0" stroke="none" stroke-width="1"/>
<polygon points="464.8,231.04 466.52,228.04 463.07,228.04" fill="#f020f0" stroke="none" stroke-width="1"/>
<polygon points="470.4,230.2 472.12,227.2 468.67,227.2" fill="#f020f0" stroke="none" stroke-width="1"/>
<polygon points="476,229.48 477.73,226.48 474.27,226.48" fill="#f020f0" stroke="none" stroke-width="1"/>
<polygon points="481.6,228.76 483.32,225.76 479.87,225.76" fill="#f020f0" stroke="none" stroke-width="1"/>
<polygon points="487.2,228.04 488.93,225.04 485.47,225.04" fill="#f020f0" stroke="none" stroke-width="1"/>
<polygon points="492.8,227.32 494.52,224.32 491.07,224.32" fill="#f020f0" stroke="none" stroke-width="1"/>
<polygon points="498.4,226.6 500.12,223.6 496.67,223.6" fill="#f020f0" stroke="none" stroke-width="1"/>
<polygon points="392,243.4 393.73,246.4 390.27,246.4" fill="#1010f0" stroke="none" stroke-width="1"/>
<polygon points="397.6,239.95 399.32,242.95 395.87,242.95" fill="#1010f0" stroke="none" stroke-width="1"/>
<polygon points="403.2,236.5 404.93,239.5 401.47,239.5" fill="#1010f0" stroke="none" stroke-width="1"/>
<polygon points="408.8,233.05 410.52,236.05 407.07,236.05" fill="#1010f0" stroke="none" stroke-width="1"/>
<polygon points="414.4,229.6 416.12,232.6 412.67,232.6" fill="#1010f0" stroke="none" stroke-width="1"/>
<polygon points="420,227.08 421.73,230.08 418.27,230.08" fill="#1010f0" stroke="none" stroke-width="1"/>
<polygon points="425.6,224.56 427.32,227.56 423.87,227.56" fill="#1010f0" stroke="none" stroke-width="1"/>
<polygon points="431.2,222.04 432.93,225.04 429.47,225.04" fill="#1010f0" stroke="none" stroke-width="1"/>
<polygon points="436.8,219.52 438.52,222.52 435.07,222.52" fill="#1010f0" stroke="none" stroke-width="1"/>
<polygon points="442.4,217 444.12,220 440.67,220" fill="#1010f0" stroke="none" stroke-width="1"/>
<polygon points="448,215.56 449.73,218.56 446.27,218.56" fill="#1010f0" stroke="none" stroke-width="1"/>
<polygon points="453.6,214.12 455.32,217.12 451.87,217.12" fill="#1010f0" stroke="none" stroke-width="1"/>
<polygon points="459.2,212.68 460.93,215.68 457.47,215.68" fill="#1010f0" stroke="none" stroke-width="1"/>
<polygon points="464.8,211.24 466.52,214.24 463.07,214.24" fill="#1010f0" stroke="none" stroke-width="1"/>
<polygon points="470.4,209.8 472.12,212.8 468.67,212.8" fill="#1010f0" stroke="none" stroke-width="1"/>
<polygon points="476,208.72 477.73,211.72 474.27,211.72" fill="#1010f0" stroke="none" stroke-width="1"/>
<polygon points="481.6,207.64 483.32,210.64 479.87,210.64" fill="#1010f0" stroke="none" stroke-width="1"/>
<polygon points="487.2,206.56 488.93,209.56 485.47,209.56" fill="#1010f0" stroke="none" stroke-width="1"/>
<polygon points="492.8,205.48 494.52,208.48 491.07,208.48" fill="#1010f0" stroke="none" stroke-width="1"/>
<polygon points="498.4,204.4 500.12,207.4 496.67,207.4" fill="#1010f0" stroke="none" stroke-width="1"/>
<circle cx="392" cy="244.6" r="1.58" fill="#f01010"/>
<circle cx="397.6" cy="241" r="1.58" fill="#f01010"/>
<circle cx="403.2" cy="237.4" r="1.58" fill="#f01010"/>
<circle cx="408.8" cy="233.8" r="1.58" fill="#f01010"/>
<circle cx="414.4" cy="230.2" r="1.58" fill="#f01010"/>
<circle cx="420" cy="227.32" r="1.58" fill="#f01010"/>
<circle cx="425.6" cy="224.44" r="1.58" fill="#f01010"/>
<circle cx="431.2" cy="221.56" r="1.58" fill="#f01010"/>
<circle cx="436.8" cy="218.68" r="1.58" fill="#f01010"/>
<circle cx="442.4" cy="215.8" r="1.58" fill="#f01010"/>
<circle cx="448" cy="212.92" r="1.58" fill="#f01010"/>
<circle cx="453.6" cy="210.04" r="1.58" fill="#f01010"/>
<circle cx="459.2" cy="207.16" r="1.58" fill="#f01010"/>
<circle cx="464.8" cy="204.28" r="1.58" fill="#f01010"/>
<circle cx="470.4" cy="201.4" r="1.58" fill="#f01010"/>
<circle cx="476" cy="198.88" r="1.58" fill="#f01010"/>
<circle cx="481.6" cy="196.36" r="1.58" fill="#f01010"/>
<circle cx="487.2" cy="193.84" r="1.58" fill="#f01010"/>
<circle cx="492.8" cy="191.32" r="1.58" fill="#f01010"/>
<circle cx="498.4" cy="188.8" r="1.58" fill="#f01010"/>
<rect x="390.5" y="243.1" width="3" height="3" fill="#000" stroke="none" stroke-width="1"/>
<rect x="396.1" y="239.35" width="3" height="3" fill="#000" stroke="none" stroke-width="1"/>
<rect x="401.7" y="235.6" width="3" height="3" fill="#000" stroke="none" stroke-width="1"/>
<rect x="407.3" y="231.85" width="3" height="3" fill="#000" stroke="none" stroke-width="1"/>
<rect x="412.9" y="228.1" width="3" height="3" fill="#000" stroke="none" stroke-width="1"/>
<rect x="418.5" y="224.38" width="3" height="3" fill="#000" stroke="none" stroke-width="1"/>
<rect x="424.1" y="220.66" width="3" height="3" fill="#000" stroke="none" stroke-width="1"/>
<rect x="429.7" y="216.94" width="3" height="3" fill="#000" stroke="none" stroke-width="1"/>
<rect x="435.3" y="213.22" width="3" height="3" fill="#000" stroke="none" stroke-width="1"/>
<rect x="440.9" y="209.5" width="3" height="3" fill="#000" stroke="none" stroke-width="1"/>
<rect x="446.5" y="205.42" width="3" height="3" fill="#000" stroke="none" stroke-width="1"/>
<rect x="452.1" y="201.34" width="3" height="3" fill="#000" stroke="none" stroke-width="1"/>
<rect x="457.7" y="197.26" width="3" height="3" fill="#000" stroke="none" stroke-width="1"/>
<rect x="463.3" y="193.18" width="3" height="3" fill="#000" stroke="none" stroke-width="1"/>
<rect x="468.9" y="189.1" width="3" height="3" fill="#000" stroke="none" stroke-width="1"/>
<rect x="474.5" y="184.54" width="3" height="3" fill="#000" stroke="none" stroke-width="1"/>
<rect x="480.1" y="179.98" width="3" height="3" fill="#000" stroke="none" stroke-width="1"/>
<rect x="485.7" y="175.42" width="3" height="3" fill="#000" stroke="none" stroke-width="1"/>
<rect x="491.3" y="170.86" width="3" height="3" fill="#000" stroke="none" stroke-width="1"/>
<rect x="496.9" y="166.3" width="3" height="3" fill="#000" stroke="none" stroke-width="1"/>
<rect x="384.4" y="157.8" width="3" height="3" fill="#000" stroke="none" stroke-width="1"/>
<text x="394.5" y="161.6" font-family="Liberation Serif" font-size="6.6" text-anchor="start" fill="#000" stroke="#000" stroke-width="0.14">12.5 Hz</text>
<circle cx="385.9" cy="166.92" r="1.58" fill="#f01010"/>
<text x="394.5" y="169.22" font-family="Liberation Serif" font-size="6.6" text-anchor="start" fill="#000" stroke="#000" stroke-width="0.14">10 Hz</text>
<polygon points="385.9,172.74 387.62,175.74 384.17,175.74" fill="#1010f0" stroke="none" stroke-width="1"/>
<text x="394.5" y="176.84" font-family="Liberation Serif" font-size="6.6" text-anchor="start" fill="#000" stroke="#000" stroke-width="0.14">8.3 Hz</text>
<polygon points="385.9,183.96 387.62,180.96 384.17,180.96" fill="#f020f0" stroke="none" stroke-width="1"/>
<text x="394.5" y="184.46" font-family="Liberation Serif" font-size="6.6" text-anchor="start" fill="#000" stroke="#000" stroke-width="0.14">7.1 Hz</text>
<polygon points="385.9,187.83 387.7,189.78 385.9,191.73 384.1,189.78" fill="#2a8a2a" stroke="none" stroke-width="1"/>
<text x="394.5" y="192.08" font-family="Liberation Serif" font-size="6.6" text-anchor="start" fill="#000" stroke="#000" stroke-width="0.14">6.25 Hz</text>
<polygon points="384.1,197.4 387.1,195.68 387.1,199.12" fill="#0a0a80" stroke="none" stroke-width="1"/>
<text x="394.5" y="199.7" font-family="Liberation Serif" font-size="6.6" text-anchor="start" fill="#000" stroke="#000" stroke-width="0.14">5 Hz</text>
<polygon points="387.7,205.02 384.7,203.3 384.7,206.75" fill="#8a1ae0" stroke="none" stroke-width="1"/>
<text x="394.5" y="207.32" font-family="Liberation Serif" font-size="6.6" text-anchor="start" fill="#000" stroke="#000" stroke-width="0.14">3.3 Hz</text>
<line x1="386.4" y1="262.3" x2="386.4" y2="259.3" stroke="#3a3a3a" stroke-width="0.9"/>
<line x1="414.4" y1="262.3" x2="414.4" y2="259.3" stroke="#3a3a3a" stroke-width="0.9"/>
<line x1="442.4" y1="262.3" x2="442.4" y2="259.3" stroke="#3a3a3a" stroke-width="0.9"/>
<line x1="470.4" y1="262.3" x2="470.4" y2="259.3" stroke="#3a3a3a" stroke-width="0.9"/>
<line x1="498.4" y1="262.3" x2="498.4" y2="259.3" stroke="#3a3a3a" stroke-width="0.9"/>
<line x1="400.4" y1="262.3" x2="400.4" y2="260.7" stroke="#3a3a3a" stroke-width="0.9"/>
<line x1="428.4" y1="262.3" x2="428.4" y2="260.7" stroke="#3a3a3a" stroke-width="0.9"/>
<line x1="456.4" y1="262.3" x2="456.4" y2="260.7" stroke="#3a3a3a" stroke-width="0.9"/>
<line x1="484.4" y1="262.3" x2="484.4" y2="260.7" stroke="#3a3a3a" stroke-width="0.9"/>
<line x1="377.9" y1="250.6" x2="380.9" y2="250.6" stroke="#3a3a3a" stroke-width="0.9"/>
<line x1="377.9" y1="226.6" x2="380.9" y2="226.6" stroke="#3a3a3a" stroke-width="0.9"/>
<line x1="377.9" y1="202.6" x2="380.9" y2="202.6" stroke="#3a3a3a" stroke-width="0.9"/>
<line x1="377.9" y1="178.6" x2="380.9" y2="178.6" stroke="#3a3a3a" stroke-width="0.9"/>
<line x1="377.9" y1="154.6" x2="380.9" y2="154.6" stroke="#3a3a3a" stroke-width="0.9"/>
<line x1="377.9" y1="262.6" x2="379.5" y2="262.6" stroke="#3a3a3a" stroke-width="0.9"/>
<line x1="377.9" y1="238.6" x2="379.5" y2="238.6" stroke="#3a3a3a" stroke-width="0.9"/>
<line x1="377.9" y1="214.6" x2="379.5" y2="214.6" stroke="#3a3a3a" stroke-width="0.9"/>
<line x1="377.9" y1="190.6" x2="379.5" y2="190.6" stroke="#3a3a3a" stroke-width="0.9"/>
<line x1="377.9" y1="166.6" x2="379.5" y2="166.6" stroke="#3a3a3a" stroke-width="0.9"/>
<rect x="377.9" y="154.6" width="134.6" height="107.7" fill="none" stroke="#3a3a3a" stroke-width="1.1"/>
<text x="386.4" y="271.8" font-family="Liberation Serif" font-size="9" text-anchor="middle" fill="#000" stroke="#000" stroke-width="0.14">0</text>
<text x="414.4" y="271.8" font-family="Liberation Serif" font-size="9" text-anchor="middle" fill="#000" stroke="#000" stroke-width="0.14">5</text>
<text x="442.4" y="271.8" font-family="Liberation Serif" font-size="9" text-anchor="middle" fill="#000" stroke="#000" stroke-width="0.14">10</text>
<text x="470.4" y="271.8" font-family="Liberation Serif" font-size="9" text-anchor="middle" fill="#000" stroke="#000" stroke-width="0.14">15</text>
<text x="498.4" y="271.8" font-family="Liberation Serif" font-size="9" text-anchor="middle" fill="#000" stroke="#000" stroke-width="0.14">20</text>
<text x="375.6" y="253.39" font-family="Liberation Serif" font-size="9" text-anchor="end" fill="#000" stroke="#000" stroke-width="0.14">0</text>
<text x="375.6" y="229.39" font-family="Liberation Serif" font-size="9" text-anchor="end" fill="#000" stroke="#000" stroke-width="0.14">2</text>
<text x="375.6" y="205.39" font-family="Liberation Serif" font-size="9" text-anchor="end" fill="#000" stroke="#000" stroke-width="0.14">4</text>
<text x="375.6" y="181.39" font-family="Liberation Serif" font-size="9" text-anchor="end" fill="#000" stroke="#000" stroke-width="0.14">6</text>
<text x="375.6" y="157.39" font-family="Liberation Serif" font-size="9" text-anchor="end" fill="#000" stroke="#000" stroke-width="0.14">8</text>
<text x="368.5" y="208.8" font-family="Liberation Serif" font-size="9" text-anchor="middle" fill="#000" transform="rotate(-90 368.5 208.8)" stroke="#000" stroke-width="0.14">EPSC (μA)</text>
<text x="442.5" y="282.3" font-family="Liberation Serif" font-size="9.1" text-anchor="middle" fill="#000" stroke="#000" stroke-width="0.14">Pulse numbers</text>
<text x="357" y="148.2" font-family="Liberation Serif" font-size="20.5" text-anchor="start" fill="#000">g</text>
<rect x="549.4" y="152.5" width="133.9" height="107.8" fill="url(#grad)" stroke="none" stroke-width="1"/>
<polyline points="562,251.48 582.15,244.16 596.96,231.84 607.03,228.76 621.26,204.12 641.4,185.64 671.03,161.77" fill="none" stroke="#000" stroke-width="1.1" stroke-linejoin="round" stroke-linecap="round"/>
<rect x="559.8" y="249.28" width="4.4" height="4.4" fill="#000" stroke="none" stroke-width="1"/>
<rect x="579.95" y="241.96" width="4.4" height="4.4" fill="#000" stroke="none" stroke-width="1"/>
<rect x="594.76" y="229.64" width="4.4" height="4.4" fill="#000" stroke="none" stroke-width="1"/>
<rect x="604.83" y="226.56" width="4.4" height="4.4" fill="#000" stroke="none" stroke-width="1"/>
<rect x="619.06" y="201.92" width="4.4" height="4.4" fill="#000" stroke="none" stroke-width="1"/>
<rect x="639.2" y="183.44" width="4.4" height="4.4" fill="#000" stroke="none" stroke-width="1"/>
<rect x="668.83" y="159.57" width="4.4" height="4.4" fill="#000" stroke="none" stroke-width="1"/>
<line x1="553.2" y1="160" x2="569.5" y2="160" stroke="#000" stroke-width="1.1"/>
<rect x="559.1" y="157.8" width="4.4" height="4.4" fill="#000" stroke="none" stroke-width="1"/>
<text x="571.8" y="162.3" font-family="Liberation Serif" font-size="7.3" text-anchor="start" fill="#000" stroke="#000" stroke-width="0.14">(A<tspan font-size="5" baseline-shift="-1.5">20</tspan>-A<tspan font-size="5" baseline-shift="-1.5">1</tspan>)/A<tspan font-size="5" baseline-shift="-1.5">1</tspan></text>
<line x1="570.3" y1="260.3" x2="570.3" y2="257.3" stroke="#3a3a3a" stroke-width="0.9"/>
<line x1="594" y1="260.3" x2="594" y2="257.3" stroke="#3a3a3a" stroke-width="0.9"/>
<line x1="617.7" y1="260.3" x2="617.7" y2="257.3" stroke="#3a3a3a" stroke-width="0.9"/>
<line x1="641.4" y1="260.3" x2="641.4" y2="257.3" stroke="#3a3a3a" stroke-width="0.9"/>
<line x1="665.1" y1="260.3" x2="665.1" y2="257.3" stroke="#3a3a3a" stroke-width="0.9"/>
<line x1="558.45" y1="260.3" x2="558.45" y2="258.7" stroke="#3a3a3a" stroke-width="0.9"/>
<line x1="582.15" y1="260.3" x2="582.15" y2="258.7" stroke="#3a3a3a" stroke-width="0.9"/>
<line x1="605.85" y1="260.3" x2="605.85" y2="258.7" stroke="#3a3a3a" stroke-width="0.9"/>
<line x1="629.55" y1="260.3" x2="629.55" y2="258.7" stroke="#3a3a3a" stroke-width="0.9"/>
<line x1="653.25" y1="260.3" x2="653.25" y2="258.7" stroke="#3a3a3a" stroke-width="0.9"/>
<line x1="676.95" y1="260.3" x2="676.95" y2="258.7" stroke="#3a3a3a" stroke-width="0.9"/>
<line x1="549.4" y1="253.4" x2="552.4" y2="253.4" stroke="#3a3a3a" stroke-width="0.9"/>
<line x1="549.4" y1="222.6" x2="552.4" y2="222.6" stroke="#3a3a3a" stroke-width="0.9"/>
<line x1="549.4" y1="191.8" x2="552.4" y2="191.8" stroke="#3a3a3a" stroke-width="0.9"/>
<line x1="549.4" y1="161" x2="552.4" y2="161" stroke="#3a3a3a" stroke-width="0.9"/>
<line x1="549.4" y1="238" x2="551" y2="238" stroke="#3a3a3a" stroke-width="0.9"/>
<line x1="549.4" y1="207.2" x2="551" y2="207.2" stroke="#3a3a3a" stroke-width="0.9"/>
<line x1="549.4" y1="176.4" x2="551" y2="176.4" stroke="#3a3a3a" stroke-width="0.9"/>
<rect x="549.4" y="152.5" width="133.9" height="107.8" fill="none" stroke="#3a3a3a" stroke-width="1.1"/>
<text x="570.3" y="269.8" font-family="Liberation Serif" font-size="9" text-anchor="middle" fill="#000" stroke="#000" stroke-width="0.14">4</text>
<text x="594" y="269.8" font-family="Liberation Serif" font-size="9" text-anchor="middle" fill="#000" stroke="#000" stroke-width="0.14">6</text>
<text x="617.7" y="269.8" font-family="Liberation Serif" font-size="9" text-anchor="middle" fill="#000" stroke="#000" stroke-width="0.14">8</text>
<text x="641.4" y="269.8" font-family="Liberation Serif" font-size="9" text-anchor="middle" fill="#000" stroke="#000" stroke-width="0.14">10</text>
<text x="665.1" y="269.8" font-family="Liberation Serif" font-size="9" text-anchor="middle" fill="#000" stroke="#000" stroke-width="0.14">12</text>
<text x="547.1" y="256.19" font-family="Liberation Serif" font-size="9" text-anchor="end" fill="#000" stroke="#000" stroke-width="0.14">0</text>
<text x="547.1" y="225.39" font-family="Liberation Serif" font-size="9" text-anchor="end" fill="#000" stroke="#000" stroke-width="0.14">4</text>
<text x="547.1" y="194.59" font-family="Liberation Serif" font-size="9" text-anchor="end" fill="#000" stroke="#000" stroke-width="0.14">8</text>
<text x="547.1" y="163.79" font-family="Liberation Serif" font-size="9" text-anchor="end" fill="#000" stroke="#000" stroke-width="0.14">12</text>
<text x="535" y="207.8" font-family="Liberation Serif" font-size="9" text-anchor="middle" fill="#000" transform="rotate(-90 535 207.8)" stroke="#000" stroke-width="0.14">Amplitude gain</text>
<text x="613.5" y="279.4" font-family="Liberation Serif" font-size="9.1" text-anchor="middle" fill="#000" stroke="#000" stroke-width="0.14">Frequency (Hz)</text>
<text x="529" y="149" font-family="Liberation Serif" font-size="20.5" text-anchor="start" fill="#000">h</text>
<rect x="205.5" y="296.4" width="132.5" height="21.5" fill="#fff" stroke="none" stroke-width="1"/>
<rect x="205.5" y="317.9" width="132.5" height="85.3" fill="url(#grad)" stroke="none" stroke-width="1"/>
<polyline points="220,299.8 249.1,299.8 249.1,299.8 249.25,314.5 250.28,314.5 250.44,299.8 251.47,299.8 251.47,299.8 251.62,314.5 252.66,314.5 252.81,299.8 253.84,299.8 253.84,299.8 253.99,314.5 255.03,314.5 255.18,299.8 256.21,299.8 256.21,299.8 256.36,314.5 257.39,314.5 257.54,299.8 258.58,299.8 258.58,299.8 258.73,314.5 259.76,314.5 259.91,299.8 260.95,299.8 260.95,299.8 261.1,314.5 262.13,314.5 262.28,299.8 263.32,299.8 263.32,299.8 263.47,314.5 264.5,314.5 264.65,299.8 265.69,299.8 265.69,299.8 265.84,314.5 266.88,314.5 267.02,299.8 268.06,299.8 268.06,299.8 268.21,314.5 269.25,314.5 269.39,299.8 270.43,299.8 270.43,299.8 270.58,314.5 271.62,314.5 271.76,299.8 272.8,299.8 272.8,299.8 272.95,314.5 273.99,314.5 274.13,299.8 275.17,299.8 275.17,299.8 275.32,314.5 276.36,314.5 276.5,299.8 277.54,299.8 277.54,299.8 277.69,314.5 278.73,314.5 278.88,299.8 279.91,299.8 279.91,299.8 280.06,314.5 281.1,314.5 281.25,299.8 282.28,299.8 282.28,299.8 282.43,314.5 283.47,314.5 283.62,299.8 284.65,299.8 284.65,299.8 284.8,314.5 285.84,314.5 285.99,299.8 287.02,299.8 287.02,299.8 287.17,314.5 288.21,314.5 288.36,299.8 289.39,299.8 289.39,299.8 289.54,314.5 290.58,314.5 290.73,299.8 291.76,299.8 291.76,299.8 291.91,314.5 292.95,314.5 293.1,299.8 294.13,299.8 294.13,299.8 294.28,314.5 295.32,314.5 295.47,299.8 296.5,299.8 326.8,299.8" fill="none" stroke="#d82222" stroke-width="0.85" stroke-linejoin="round" stroke-linecap="round"/>
<polyline points="220,381.28 249.8,345.4 250.2,330.2 251.5,356.99 252.44,360.26 252.94,341.82 253.89,364.77 254.83,366.29 255.33,348.18 256.28,368.63 257.22,370.15 257.72,353.38 258.67,372.45 259.61,373.94 260.11,357.61 261.06,376.33 262,377.95 262.5,361.75 263.45,380.45 264.39,382.07 264.89,365.38 265.84,383.8 266.78,384.43 267.28,366.85 268.23,385.4 269.17,386.03 269.67,368.02 270.62,387.01 271.56,387.55 272.06,369.03 273.01,388.18 273.94,388.58 274.44,370.02 275.39,389.21 276.33,389.62 276.83,370.97 277.78,390.24 278.72,390.65 279.22,371.91 280.17,391.27 281.11,391.6 281.61,372.77 282.56,391.96 283.5,392.19 284,373.48 284.95,392.55 285.89,392.78 286.39,374.19 287.34,393.14 288.28,393.37 288.78,374.89 289.73,393.67 290.67,393.85 291.17,375.4 292.12,394.12 293.06,394.3 293.56,375.91 294.51,394.57 295.45,394.74 295.95,376.37 296.9,394.99 296.3,394.9 310,363.5 327.25,329.5" fill="none" stroke="#1e1ed8" stroke-width="0.85" stroke-linejoin="round" stroke-linecap="round"/>
<line x1="208.1" y1="324.3" x2="224.4" y2="324.3" stroke="#2020c8" stroke-width="1.0"/>
<text x="226" y="326.8" font-family="Liberation Serif" font-size="7.2" text-anchor="start" fill="#000" stroke="#000" stroke-width="0.14">12.5 Hz</text>
<line x1="205.5" y1="310.8" x2="208" y2="310.8" stroke="#3a3a3a" stroke-width="0.9"/>
<line x1="205.5" y1="300.2" x2="208" y2="300.2" stroke="#3a3a3a" stroke-width="0.9"/>
<rect x="205.5" y="296.4" width="132.5" height="21.5" fill="none" stroke="#3a3a3a" stroke-width="1.1"/>
<text x="203.2" y="313.59" font-family="Liberation Serif" font-size="9" text-anchor="end" fill="#000" stroke="#000" stroke-width="0.14">1.5</text>
<text x="203.2" y="302.99" font-family="Liberation Serif" font-size="9" text-anchor="end" fill="#000" stroke="#000" stroke-width="0.14">3.0</text>
<line x1="220" y1="403.2" x2="220" y2="400.2" stroke="#3a3a3a" stroke-width="0.9"/>
<line x1="249.5" y1="403.2" x2="249.5" y2="400.2" stroke="#3a3a3a" stroke-width="0.9"/>
<line x1="279" y1="403.2" x2="279" y2="400.2" stroke="#3a3a3a" stroke-width="0.9"/>
<line x1="308.5" y1="403.2" x2="308.5" y2="400.2" stroke="#3a3a3a" stroke-width="0.9"/>
<line x1="338" y1="403.2" x2="338" y2="400.2" stroke="#3a3a3a" stroke-width="0.9"/>
<line x1="234.75" y1="403.2" x2="234.75" y2="401.6" stroke="#3a3a3a" stroke-width="0.9"/>
<line x1="264.25" y1="403.2" x2="264.25" y2="401.6" stroke="#3a3a3a" stroke-width="0.9"/>
<line x1="293.75" y1="403.2" x2="293.75" y2="401.6" stroke="#3a3a3a" stroke-width="0.9"/>
<line x1="323.25" y1="403.2" x2="323.25" y2="401.6" stroke="#3a3a3a" stroke-width="0.9"/>
<line x1="205.5" y1="395" x2="208.5" y2="395" stroke="#3a3a3a" stroke-width="0.9"/>
<line x1="205.5" y1="375.4" x2="208.5" y2="375.4" stroke="#3a3a3a" stroke-width="0.9"/>
<line x1="205.5" y1="355.8" x2="208.5" y2="355.8" stroke="#3a3a3a" stroke-width="0.9"/>
<line x1="205.5" y1="336.2" x2="208.5" y2="336.2" stroke="#3a3a3a" stroke-width="0.9"/>
<line x1="205.5" y1="385.2" x2="207.1" y2="385.2" stroke="#3a3a3a" stroke-width="0.9"/>
<line x1="205.5" y1="365.6" x2="207.1" y2="365.6" stroke="#3a3a3a" stroke-width="0.9"/>
<line x1="205.5" y1="346" x2="207.1" y2="346" stroke="#3a3a3a" stroke-width="0.9"/>
<line x1="205.5" y1="326.4" x2="207.1" y2="326.4" stroke="#3a3a3a" stroke-width="0.9"/>
<rect x="205.5" y="317.9" width="132.5" height="85.3" fill="none" stroke="#3a3a3a" stroke-width="1.1"/>
<text x="220" y="412.7" font-family="Liberation Serif" font-size="9" text-anchor="middle" fill="#000" stroke="#000" stroke-width="0.14">0</text>
<text x="249.5" y="412.7" font-family="Liberation Serif" font-size="9" text-anchor="middle" fill="#000" stroke="#000" stroke-width="0.14">1</text>
<text x="279" y="412.7" font-family="Liberation Serif" font-size="9" text-anchor="middle" fill="#000" stroke="#000" stroke-width="0.14">2</text>
<text x="308.5" y="412.7" font-family="Liberation Serif" font-size="9" text-anchor="middle" fill="#000" stroke="#000" stroke-width="0.14">3</text>
<text x="338" y="412.7" font-family="Liberation Serif" font-size="9" text-anchor="middle" fill="#000" stroke="#000" stroke-width="0.14">4</text>
<text x="203.2" y="397.79" font-family="Liberation Serif" font-size="9" text-anchor="end" fill="#000" stroke="#000" stroke-width="0.14">0.5</text>
<text x="203.2" y="378.19" font-family="Liberation Serif" font-size="9" text-anchor="end" fill="#000" stroke="#000" stroke-width="0.14">1.0</text>
<text x="203.2" y="358.59" font-family="Liberation Serif" font-size="9" text-anchor="end" fill="#000" stroke="#000" stroke-width="0.14">1.5</text>
<text x="203.2" y="338.99" font-family="Liberation Serif" font-size="9" text-anchor="end" fill="#000" stroke="#000" stroke-width="0.14">2.0</text>
<text x="186.3" y="306.8" font-family="Liberation Serif" font-size="9" text-anchor="middle" fill="#000" transform="rotate(-90 186.3 306.8)" stroke="#000" stroke-width="0.14">V<tspan font-size="5.5" baseline-shift="-1.8">GS</tspan> (V)</text>
<text x="187.7" y="357" font-family="Liberation Serif" font-size="9" text-anchor="middle" fill="#000" transform="rotate(-90 187.7 357)" stroke="#000" stroke-width="0.14">IPSC (μA)</text>
<text x="271.5" y="422.7" font-family="Liberation Serif" font-size="9" text-anchor="middle" fill="#000" stroke="#000" stroke-width="0.14">Time (s)</text>
<text x="184" y="288" font-family="Liberation Serif" font-size="20.5" text-anchor="start" fill="#000">j</text>
<rect x="376.3" y="295.5" width="134.2" height="107.5" fill="url(#grad)" stroke="none" stroke-width="1"/>
<polygon points="391.34,346.4 394.34,344.68 394.34,348.13" fill="#1a1a90" stroke="none" stroke-width="1"/>
<polygon points="396.98,354.78 399.98,353.06 399.98,356.51" fill="#1a1a90" stroke="none" stroke-width="1"/>
<polygon points="402.62,350.6 405.62,348.87 405.62,352.32" fill="#1a1a90" stroke="none" stroke-width="1"/>
<polygon points="408.26,348.5 411.26,346.77 411.26,350.23" fill="#1a1a90" stroke="none" stroke-width="1"/>
<polygon points="413.9,346.4 416.9,344.68 416.9,348.13" fill="#1a1a90" stroke="none" stroke-width="1"/>
<polygon points="419.54,343.47 422.54,341.75 422.54,345.2" fill="#1a1a90" stroke="none" stroke-width="1"/>
<polygon points="425.18,340.96 428.18,339.23 428.18,342.68" fill="#1a1a90" stroke="none" stroke-width="1"/>
<polygon points="430.82,338.86 433.82,337.14 433.82,340.59" fill="#1a1a90" stroke="none" stroke-width="1"/>
<polygon points="436.46,335.93 439.46,334.2 439.46,337.66" fill="#1a1a90" stroke="none" stroke-width="1"/>
<polygon points="442.1,333 445.1,331.27 445.1,334.72" fill="#1a1a90" stroke="none" stroke-width="1"/>
<polygon points="447.74,330.48 450.74,328.76 450.74,332.21" fill="#1a1a90" stroke="none" stroke-width="1"/>
<polygon points="453.38,327.55 456.38,325.82 456.38,329.28" fill="#1a1a90" stroke="none" stroke-width="1"/>
<polygon points="459.02,325.46 462.02,323.73 462.02,327.18" fill="#1a1a90" stroke="none" stroke-width="1"/>
<polygon points="464.66,322.1 467.66,320.38 467.66,323.83" fill="#1a1a90" stroke="none" stroke-width="1"/>
<polygon points="470.3,317.08 473.3,315.35 473.3,318.8" fill="#1a1a90" stroke="none" stroke-width="1"/>
<polygon points="475.94,315.82 478.94,314.09 478.94,317.54" fill="#1a1a90" stroke="none" stroke-width="1"/>
<polygon points="481.58,314.14 484.58,312.42 484.58,315.87" fill="#1a1a90" stroke="none" stroke-width="1"/>
<polygon points="487.22,311.63 490.22,309.9 490.22,313.35" fill="#1a1a90" stroke="none" stroke-width="1"/>
<polygon points="492.86,309.53 495.86,307.81 495.86,311.26" fill="#1a1a90" stroke="none" stroke-width="1"/>
<polygon points="498.5,309.11 501.5,307.39 501.5,310.84" fill="#1a1a90" stroke="none" stroke-width="1"/>
<polygon points="393.14,341.52 394.94,343.47 393.14,345.42 391.34,343.47" fill="#2a8a2a" stroke="none" stroke-width="1"/>
<polygon points="398.78,351.58 400.58,353.53 398.78,355.48 396.98,353.53" fill="#2a8a2a" stroke="none" stroke-width="1"/>
<polygon points="404.42,352 406.22,353.95 404.42,355.9 402.62,353.95" fill="#2a8a2a" stroke="none" stroke-width="1"/>
<polygon points="410.06,348.65 411.86,350.6 410.06,352.55 408.26,350.6" fill="#2a8a2a" stroke="none" stroke-width="1"/>
<polygon points="415.7,347.39 417.5,349.34 415.7,351.29 413.9,349.34" fill="#2a8a2a" stroke="none" stroke-width="1"/>
<polygon points="421.34,345.71 423.14,347.66 421.34,349.61 419.54,347.66" fill="#2a8a2a" stroke="none" stroke-width="1"/>
<polygon points="426.98,344.45 428.78,346.4 426.98,348.35 425.18,346.4" fill="#2a8a2a" stroke="none" stroke-width="1"/>
<polygon points="432.62,343.62 434.42,345.57 432.62,347.52 430.82,345.57" fill="#2a8a2a" stroke="none" stroke-width="1"/>
<polygon points="438.26,341.52 440.06,343.47 438.26,345.42 436.46,343.47" fill="#2a8a2a" stroke="none" stroke-width="1"/>
<polygon points="443.9,339.43 445.7,341.38 443.9,343.33 442.1,341.38" fill="#2a8a2a" stroke="none" stroke-width="1"/>
<polygon points="449.54,339.01 451.34,340.96 449.54,342.91 447.74,340.96" fill="#2a8a2a" stroke="none" stroke-width="1"/>
<polygon points="455.18,338.17 456.98,340.12 455.18,342.07 453.38,340.12" fill="#2a8a2a" stroke="none" stroke-width="1"/>
<polygon points="460.82,336.07 462.62,338.02 460.82,339.97 459.02,338.02" fill="#2a8a2a" stroke="none" stroke-width="1"/>
<polygon points="466.46,333.14 468.26,335.09 466.46,337.04 464.66,335.09" fill="#2a8a2a" stroke="none" stroke-width="1"/>
<polygon points="472.1,330.63 473.9,332.58 472.1,334.53 470.3,332.58" fill="#2a8a2a" stroke="none" stroke-width="1"/>
<polygon points="477.74,328.53 479.54,330.48 477.74,332.43 475.94,330.48" fill="#2a8a2a" stroke="none" stroke-width="1"/>
<polygon points="483.38,326.86 485.18,328.81 483.38,330.76 481.58,328.81" fill="#2a8a2a" stroke="none" stroke-width="1"/>
<polygon points="489.02,324.34 490.82,326.29 489.02,328.24 487.22,326.29" fill="#2a8a2a" stroke="none" stroke-width="1"/>
<polygon points="494.66,322.25 496.46,324.2 494.66,326.15 492.86,324.2" fill="#2a8a2a" stroke="none" stroke-width="1"/>
<polygon points="500.3,322.67 502.1,324.62 500.3,326.57 498.5,324.62" fill="#2a8a2a" stroke="none" stroke-width="1"/>
<polygon points="393.14,341.08 394.87,338.08 391.41,338.08" fill="#f020f0" stroke="none" stroke-width="1"/>
<polygon points="398.78,347.37 400.5,344.37 397.05,344.37" fill="#f020f0" stroke="none" stroke-width="1"/>
<polygon points="404.42,349.46 406.15,346.46 402.69,346.46" fill="#f020f0" stroke="none" stroke-width="1"/>
<polygon points="410.06,351.56 411.79,348.56 408.33,348.56" fill="#f020f0" stroke="none" stroke-width="1"/>
<polygon points="415.7,352.4 417.43,349.4 413.97,349.4" fill="#f020f0" stroke="none" stroke-width="1"/>
<polygon points="421.34,353.65 423.07,350.65 419.62,350.65" fill="#f020f0" stroke="none" stroke-width="1"/>
<polygon points="426.98,355.33 428.71,352.33 425.25,352.33" fill="#f020f0" stroke="none" stroke-width="1"/>
<polygon points="432.62,355.33 434.35,352.33 430.89,352.33" fill="#f020f0" stroke="none" stroke-width="1"/>
<polygon points="438.26,355.33 439.99,352.33 436.53,352.33" fill="#f020f0" stroke="none" stroke-width="1"/>
<polygon points="443.9,353.65 445.62,350.65 442.17,350.65" fill="#f020f0" stroke="none" stroke-width="1"/>
<polygon points="449.54,352.4 451.27,349.4 447.81,349.4" fill="#f020f0" stroke="none" stroke-width="1"/>
<polygon points="455.18,351.56 456.91,348.56 453.45,348.56" fill="#f020f0" stroke="none" stroke-width="1"/>
<polygon points="460.82,350.3 462.55,347.3 459.09,347.3" fill="#f020f0" stroke="none" stroke-width="1"/>
<polygon points="466.46,349.46 468.19,346.46 464.74,346.46" fill="#f020f0" stroke="none" stroke-width="1"/>
<polygon points="472.1,348.2 473.83,345.2 470.38,345.2" fill="#f020f0" stroke="none" stroke-width="1"/>
<polygon points="477.74,346.95 479.47,343.95 476.01,343.95" fill="#f020f0" stroke="none" stroke-width="1"/>
<polygon points="483.38,346.11 485.11,343.11 481.65,343.11" fill="#f020f0" stroke="none" stroke-width="1"/>
<polygon points="489.02,344.02 490.75,341.02 487.29,341.02" fill="#f020f0" stroke="none" stroke-width="1"/>
<polygon points="494.66,342.76 496.39,339.76 492.94,339.76" fill="#f020f0" stroke="none" stroke-width="1"/>
<polygon points="500.3,342.76 502.03,339.76 498.57,339.76" fill="#f020f0" stroke="none" stroke-width="1"/>
<polygon points="393.14,344.6 394.87,347.6 391.41,347.6" fill="#1010f0" stroke="none" stroke-width="1"/>
<polygon points="398.78,345.86 400.5,348.86 397.05,348.86" fill="#1010f0" stroke="none" stroke-width="1"/>
<polygon points="404.42,347.96 406.15,350.96 402.69,350.96" fill="#1010f0" stroke="none" stroke-width="1"/>
<polygon points="410.06,349.63 411.79,352.63 408.33,352.63" fill="#1010f0" stroke="none" stroke-width="1"/>
<polygon points="415.7,354.24 417.43,357.24 413.97,357.24" fill="#1010f0" stroke="none" stroke-width="1"/>
<polygon points="421.34,355.08 423.07,358.08 419.62,358.08" fill="#1010f0" stroke="none" stroke-width="1"/>
<polygon points="426.98,355.5 428.71,358.5 425.25,358.5" fill="#1010f0" stroke="none" stroke-width="1"/>
<polygon points="432.62,355.5 434.35,358.5 430.89,358.5" fill="#1010f0" stroke="none" stroke-width="1"/>
<polygon points="438.26,355.92 439.99,358.92 436.53,358.92" fill="#1010f0" stroke="none" stroke-width="1"/>
<polygon points="443.9,355.92 445.62,358.92 442.17,358.92" fill="#1010f0" stroke="none" stroke-width="1"/>
<polygon points="449.54,355.92 451.27,358.92 447.81,358.92" fill="#1010f0" stroke="none" stroke-width="1"/>
<polygon points="455.18,355.92 456.91,358.92 453.45,358.92" fill="#1010f0" stroke="none" stroke-width="1"/>
<polygon points="460.82,355.92 462.55,358.92 459.09,358.92" fill="#1010f0" stroke="none" stroke-width="1"/>
<polygon points="466.46,356.34 468.19,359.34 464.74,359.34" fill="#1010f0" stroke="none" stroke-width="1"/>
<polygon points="472.1,356.34 473.83,359.34 470.38,359.34" fill="#1010f0" stroke="none" stroke-width="1"/>
<polygon points="477.74,356.34 479.47,359.34 476.01,359.34" fill="#1010f0" stroke="none" stroke-width="1"/>
<polygon points="483.38,356.34 485.11,359.34 481.65,359.34" fill="#1010f0" stroke="none" stroke-width="1"/>
<polygon points="489.02,356.34 490.75,359.34 487.29,359.34" fill="#1010f0" stroke="none" stroke-width="1"/>
<polygon points="494.66,356.34 496.39,359.34 492.94,359.34" fill="#1010f0" stroke="none" stroke-width="1"/>
<polygon points="500.3,356.34 502.03,359.34 498.57,359.34" fill="#1010f0" stroke="none" stroke-width="1"/>
<circle cx="393.14" cy="346.4" r="1.58" fill="#f01010"/>
<circle cx="398.78" cy="354.78" r="1.58" fill="#f01010"/>
<circle cx="404.42" cy="358.98" r="1.58" fill="#f01010"/>
<circle cx="410.06" cy="362.33" r="1.58" fill="#f01010"/>
<circle cx="415.7" cy="364.42" r="1.58" fill="#f01010"/>
<circle cx="421.34" cy="369.45" r="1.58" fill="#f01010"/>
<circle cx="426.98" cy="370.71" r="1.58" fill="#f01010"/>
<circle cx="432.62" cy="371.54" r="1.58" fill="#f01010"/>
<circle cx="438.26" cy="372.8" r="1.58" fill="#f01010"/>
<circle cx="443.9" cy="373.64" r="1.58" fill="#f01010"/>
<circle cx="449.54" cy="374.9" r="1.58" fill="#f01010"/>
<circle cx="455.18" cy="375.32" r="1.58" fill="#f01010"/>
<circle cx="460.82" cy="375.74" r="1.58" fill="#f01010"/>
<circle cx="466.46" cy="376.15" r="1.58" fill="#f01010"/>
<circle cx="472.1" cy="376.15" r="1.58" fill="#f01010"/>
<circle cx="477.74" cy="376.99" r="1.58" fill="#f01010"/>
<circle cx="483.38" cy="376.99" r="1.58" fill="#f01010"/>
<circle cx="489.02" cy="377.41" r="1.58" fill="#f01010"/>
<circle cx="494.66" cy="377.83" r="1.58" fill="#f01010"/>
<circle cx="500.3" cy="377.41" r="1.58" fill="#f01010"/>
<rect x="391.64" y="347" width="3" height="3" fill="#000" stroke="none" stroke-width="1"/>
<rect x="397.28" y="356.22" width="3" height="3" fill="#000" stroke="none" stroke-width="1"/>
<rect x="402.92" y="362.92" width="3" height="3" fill="#000" stroke="none" stroke-width="1"/>
<rect x="408.56" y="367.53" width="3" height="3" fill="#000" stroke="none" stroke-width="1"/>
<rect x="414.2" y="370.46" width="3" height="3" fill="#000" stroke="none" stroke-width="1"/>
<rect x="419.84" y="372.56" width="3" height="3" fill="#000" stroke="none" stroke-width="1"/>
<rect x="425.48" y="378.01" width="3" height="3" fill="#000" stroke="none" stroke-width="1"/>
<rect x="431.12" y="380.1" width="3" height="3" fill="#000" stroke="none" stroke-width="1"/>
<rect x="436.76" y="381.78" width="3" height="3" fill="#000" stroke="none" stroke-width="1"/>
<rect x="442.4" y="382.62" width="3" height="3" fill="#000" stroke="none" stroke-width="1"/>
<rect x="448.04" y="383.87" width="3" height="3" fill="#000" stroke="none" stroke-width="1"/>
<rect x="453.68" y="385.13" width="3" height="3" fill="#000" stroke="none" stroke-width="1"/>
<rect x="459.32" y="385.97" width="3" height="3" fill="#000" stroke="none" stroke-width="1"/>
<rect x="464.96" y="386.8" width="3" height="3" fill="#000" stroke="none" stroke-width="1"/>
<rect x="470.6" y="387.64" width="3" height="3" fill="#000" stroke="none" stroke-width="1"/>
<rect x="476.24" y="388.48" width="3" height="3" fill="#000" stroke="none" stroke-width="1"/>
<rect x="481.88" y="388.9" width="3" height="3" fill="#000" stroke="none" stroke-width="1"/>
<rect x="487.52" y="388.9" width="3" height="3" fill="#000" stroke="none" stroke-width="1"/>
<rect x="493.16" y="389.32" width="3" height="3" fill="#000" stroke="none" stroke-width="1"/>
<rect x="498.8" y="390.16" width="3" height="3" fill="#000" stroke="none" stroke-width="1"/>
<rect x="380" y="296.9" width="3" height="3" fill="#000" stroke="none" stroke-width="1"/>
<text x="390" y="300.7" font-family="Liberation Serif" font-size="6.6" text-anchor="start" fill="#000" stroke="#000" stroke-width="0.14">12.5 Hz</text>
<circle cx="381.5" cy="305.98" r="1.58" fill="#f01010"/>
<text x="390" y="308.28" font-family="Liberation Serif" font-size="6.6" text-anchor="start" fill="#000" stroke="#000" stroke-width="0.14">10 Hz</text>
<polygon points="381.5,311.76 383.23,314.76 379.77,314.76" fill="#1010f0" stroke="none" stroke-width="1"/>
<text x="390" y="315.86" font-family="Liberation Serif" font-size="6.6" text-anchor="start" fill="#000" stroke="#000" stroke-width="0.14">8.3 Hz</text>
<polygon points="381.5,322.94 383.23,319.94 379.77,319.94" fill="#f020f0" stroke="none" stroke-width="1"/>
<text x="390" y="323.44" font-family="Liberation Serif" font-size="6.6" text-anchor="start" fill="#000" stroke="#000" stroke-width="0.14">7.1 Hz</text>
<polygon points="381.5,326.77 383.3,328.72 381.5,330.67 379.7,328.72" fill="#2a8a2a" stroke="none" stroke-width="1"/>
<text x="390" y="331.02" font-family="Liberation Serif" font-size="6.6" text-anchor="start" fill="#000" stroke="#000" stroke-width="0.14">6.25 Hz</text>
<polygon points="379.7,336.3 382.7,334.57 382.7,338.02" fill="#1a1a90" stroke="none" stroke-width="1"/>
<text x="390" y="338.6" font-family="Liberation Serif" font-size="6.6" text-anchor="start" fill="#000" stroke="#000" stroke-width="0.14">5 Hz</text>
<line x1="387.5" y1="403" x2="387.5" y2="400" stroke="#3a3a3a" stroke-width="0.9"/>
<line x1="415.7" y1="403" x2="415.7" y2="400" stroke="#3a3a3a" stroke-width="0.9"/>
<line x1="443.9" y1="403" x2="443.9" y2="400" stroke="#3a3a3a" stroke-width="0.9"/>
<line x1="472.1" y1="403" x2="472.1" y2="400" stroke="#3a3a3a" stroke-width="0.9"/>
<line x1="500.3" y1="403" x2="500.3" y2="400" stroke="#3a3a3a" stroke-width="0.9"/>
<line x1="401.6" y1="403" x2="401.6" y2="401.4" stroke="#3a3a3a" stroke-width="0.9"/>
<line x1="429.8" y1="403" x2="429.8" y2="401.4" stroke="#3a3a3a" stroke-width="0.9"/>
<line x1="458" y1="403" x2="458" y2="401.4" stroke="#3a3a3a" stroke-width="0.9"/>
<line x1="486.2" y1="403" x2="486.2" y2="401.4" stroke="#3a3a3a" stroke-width="0.9"/>
<line x1="376.3" y1="390.4" x2="379.3" y2="390.4" stroke="#3a3a3a" stroke-width="0.9"/>
<line x1="376.3" y1="369.45" x2="379.3" y2="369.45" stroke="#3a3a3a" stroke-width="0.9"/>
<line x1="376.3" y1="348.5" x2="379.3" y2="348.5" stroke="#3a3a3a" stroke-width="0.9"/>
<line x1="376.3" y1="327.55" x2="379.3" y2="327.55" stroke="#3a3a3a" stroke-width="0.9"/>
<line x1="376.3" y1="306.6" x2="379.3" y2="306.6" stroke="#3a3a3a" stroke-width="0.9"/>
<line x1="376.3" y1="379.92" x2="377.9" y2="379.92" stroke="#3a3a3a" stroke-width="0.9"/>
<line x1="376.3" y1="358.98" x2="377.9" y2="358.98" stroke="#3a3a3a" stroke-width="0.9"/>
<line x1="376.3" y1="338.02" x2="377.9" y2="338.02" stroke="#3a3a3a" stroke-width="0.9"/>
<line x1="376.3" y1="317.08" x2="377.9" y2="317.08" stroke="#3a3a3a" stroke-width="0.9"/>
<rect x="376.3" y="295.5" width="134.2" height="107.5" fill="none" stroke="#3a3a3a" stroke-width="1.1"/>
<text x="387.5" y="412.5" font-family="Liberation Serif" font-size="9" text-anchor="middle" fill="#000" stroke="#000" stroke-width="0.14">0</text>
<text x="415.7" y="412.5" font-family="Liberation Serif" font-size="9" text-anchor="middle" fill="#000" stroke="#000" stroke-width="0.14">5</text>
<text x="443.9" y="412.5" font-family="Liberation Serif" font-size="9" text-anchor="middle" fill="#000" stroke="#000" stroke-width="0.14">10</text>
<text x="472.1" y="412.5" font-family="Liberation Serif" font-size="9" text-anchor="middle" fill="#000" stroke="#000" stroke-width="0.14">15</text>
<text x="500.3" y="412.5" font-family="Liberation Serif" font-size="9" text-anchor="middle" fill="#000" stroke="#000" stroke-width="0.14">20</text>
<text x="374" y="393.19" font-family="Liberation Serif" font-size="9" text-anchor="end" fill="#000" stroke="#000" stroke-width="0.14">0.5</text>
<text x="374" y="372.24" font-family="Liberation Serif" font-size="9" text-anchor="end" fill="#000" stroke="#000" stroke-width="0.14">1.0</text>
<text x="374" y="351.29" font-family="Liberation Serif" font-size="9" text-anchor="end" fill="#000" stroke="#000" stroke-width="0.14">1.5</text>
<text x="374" y="330.34" font-family="Liberation Serif" font-size="9" text-anchor="end" fill="#000" stroke="#000" stroke-width="0.14">2.0</text>
<text x="374" y="309.39" font-family="Liberation Serif" font-size="9" text-anchor="end" fill="#000" stroke="#000" stroke-width="0.14">2.5</text>
<text x="358.4" y="348.5" font-family="Liberation Serif" font-size="9" text-anchor="middle" fill="#000" transform="rotate(-90 358.4 348.5)" stroke="#000" stroke-width="0.14">IPSC (μA)</text>
<text x="443.2" y="421.8" font-family="Liberation Serif" font-size="9.1" text-anchor="middle" fill="#000" stroke="#000" stroke-width="0.14">Pulse numbers</text>
<text x="357.5" y="288" font-family="Liberation Serif" font-size="20.5" text-anchor="start" fill="#000">k</text>
<rect x="547.7" y="295.6" width="134.1" height="107.1" fill="url(#grad)" stroke="none" stroke-width="1"/>
<polyline points="561.9,391.38 579.52,373.78 591.51,348.16 608.43,328.71 632.4,316.66 667.65,304.93" fill="none" stroke="#1414f0" stroke-width="1.2" stroke-linejoin="round" stroke-linecap="round"/>
<circle cx="561.9" cy="391.38" r="2.68" fill="#1414f0"/>
<circle cx="579.52" cy="373.78" r="2.68" fill="#1414f0"/>
<circle cx="591.51" cy="348.16" r="2.68" fill="#1414f0"/>
<circle cx="608.43" cy="328.71" r="2.68" fill="#1414f0"/>
<circle cx="632.4" cy="316.66" r="2.68" fill="#1414f0"/>
<circle cx="667.65" cy="304.93" r="2.68" fill="#1414f0"/>
<line x1="550.7" y1="302.4" x2="568.3" y2="302.4" stroke="#1414f0" stroke-width="1.2"/>
<circle cx="559.5" cy="302.4" r="2.68" fill="#1414f0"/>
<text x="570.3" y="305" font-family="Liberation Serif" font-size="7.3" text-anchor="start" fill="#000" stroke="#000" stroke-width="0.14">(A<tspan font-size="5" baseline-shift="-1.5">20</tspan>-A<tspan font-size="5" baseline-shift="-1.5">1</tspan>)/A<tspan font-size="5" baseline-shift="-1.5">1</tspan></text>
<line x1="547.8" y1="402.7" x2="547.8" y2="399.7" stroke="#3a3a3a" stroke-width="0.9"/>
<line x1="576" y1="402.7" x2="576" y2="399.7" stroke="#3a3a3a" stroke-width="0.9"/>
<line x1="604.2" y1="402.7" x2="604.2" y2="399.7" stroke="#3a3a3a" stroke-width="0.9"/>
<line x1="632.4" y1="402.7" x2="632.4" y2="399.7" stroke="#3a3a3a" stroke-width="0.9"/>
<line x1="660.6" y1="402.7" x2="660.6" y2="399.7" stroke="#3a3a3a" stroke-width="0.9"/>
<line x1="561.9" y1="402.7" x2="561.9" y2="401.1" stroke="#3a3a3a" stroke-width="0.9"/>
<line x1="590.1" y1="402.7" x2="590.1" y2="401.1" stroke="#3a3a3a" stroke-width="0.9"/>
<line x1="618.3" y1="402.7" x2="618.3" y2="401.1" stroke="#3a3a3a" stroke-width="0.9"/>
<line x1="646.5" y1="402.7" x2="646.5" y2="401.1" stroke="#3a3a3a" stroke-width="0.9"/>
<line x1="674.7" y1="402.7" x2="674.7" y2="401.1" stroke="#3a3a3a" stroke-width="0.9"/>
<line x1="547.7" y1="399.1" x2="550.7" y2="399.1" stroke="#3a3a3a" stroke-width="0.9"/>
<line x1="547.7" y1="374.4" x2="550.7" y2="374.4" stroke="#3a3a3a" stroke-width="0.9"/>
<line x1="547.7" y1="349.7" x2="550.7" y2="349.7" stroke="#3a3a3a" stroke-width="0.9"/>
<line x1="547.7" y1="325" x2="550.7" y2="325" stroke="#3a3a3a" stroke-width="0.9"/>
<line x1="547.7" y1="300.3" x2="550.7" y2="300.3" stroke="#3a3a3a" stroke-width="0.9"/>
<line x1="547.7" y1="386.75" x2="549.3" y2="386.75" stroke="#3a3a3a" stroke-width="0.9"/>
<line x1="547.7" y1="362.05" x2="549.3" y2="362.05" stroke="#3a3a3a" stroke-width="0.9"/>
<line x1="547.7" y1="337.35" x2="549.3" y2="337.35" stroke="#3a3a3a" stroke-width="0.9"/>
<line x1="547.7" y1="312.65" x2="549.3" y2="312.65" stroke="#3a3a3a" stroke-width="0.9"/>
<rect x="547.7" y="295.6" width="134.1" height="107.1" fill="none" stroke="#3a3a3a" stroke-width="1.1"/>
<text x="547.8" y="412.2" font-family="Liberation Serif" font-size="9" text-anchor="middle" fill="#000" stroke="#000" stroke-width="0.14">4</text>
<text x="576" y="412.2" font-family="Liberation Serif" font-size="9" text-anchor="middle" fill="#000" stroke="#000" stroke-width="0.14">6</text>
<text x="604.2" y="412.2" font-family="Liberation Serif" font-size="9" text-anchor="middle" fill="#000" stroke="#000" stroke-width="0.14">8</text>
<text x="632.4" y="412.2" font-family="Liberation Serif" font-size="9" text-anchor="middle" fill="#000" stroke="#000" stroke-width="0.14">10</text>
<text x="660.6" y="412.2" font-family="Liberation Serif" font-size="9" text-anchor="middle" fill="#000" stroke="#000" stroke-width="0.14">12</text>
<text x="545.4" y="401.89" font-family="Liberation Serif" font-size="9" text-anchor="end" fill="#000" stroke="#000" stroke-width="0.14">-1.6</text>
<text x="545.4" y="377.19" font-family="Liberation Serif" font-size="9" text-anchor="end" fill="#000" stroke="#000" stroke-width="0.14">-0.8</text>
<text x="545.4" y="352.49" font-family="Liberation Serif" font-size="9" text-anchor="end" fill="#000" stroke="#000" stroke-width="0.14">0.0</text>
<text x="545.4" y="327.79" font-family="Liberation Serif" font-size="9" text-anchor="end" fill="#000" stroke="#000" stroke-width="0.14">0.8</text>
<text x="545.4" y="303.09" font-family="Liberation Serif" font-size="9" text-anchor="end" fill="#000" stroke="#000" stroke-width="0.14">1.6</text>
<text x="528" y="348.5" font-family="Liberation Serif" font-size="9" text-anchor="middle" fill="#000" transform="rotate(-90 528 348.5)" stroke="#000" stroke-width="0.14">Amplitude gain</text>
<text x="608.8" y="421.4" font-family="Liberation Serif" font-size="9.1" text-anchor="middle" fill="#000" stroke="#000" stroke-width="0.14">Frequency (Hz)</text>
<text x="531.5" y="288" font-family="Liberation Serif" font-size="20.5" text-anchor="start" fill="#000">l</text>
<text x="4.4" y="148.6" font-family="Liberation Serif" font-size="20.5" text-anchor="start" fill="#000">e</text>
<polyline points="44.2,184.4 44.28,184.06 44.36,183.71 44.44,183.37 44.52,183.03 44.6,182.69 44.68,182.35 44.76,182.01 44.84,181.67 44.92,181.33 45,181 45.08,180.66 45.16,180.33 45.24,180 45.32,179.67 45.4,179.34 45.48,179.02 45.56,178.7 45.64,178.38 45.72,178.06 45.8,177.75 45.88,177.44 45.96,177.13 46.04,176.82 46.12,176.52 46.2,176.23 46.28,175.93 46.36,175.64 46.44,175.36 46.52,175.08 46.6,174.8 46.68,174.53 46.76,174.26 46.84,173.99 46.92,173.73 47,173.48 47.08,173.23 47.16,172.99 47.24,172.75 47.32,172.51 47.4,172.28 47.48,172.06 47.56,171.84 47.64,171.63 47.72,171.43 47.8,171.23 47.88,171.03 47.96,170.84 48.04,170.66 48.12,170.49 48.2,170.32 48.28,170.15 48.36,170 48.44,169.85 48.52,169.7 48.6,169.57 48.68,169.44 48.76,169.31 48.84,169.2 48.92,169.09 49,168.99 49.08,168.89 49.16,168.8 49.24,168.72 49.32,168.65 49.4,168.58 49.48,168.52 49.56,168.47 49.64,168.42 49.72,168.38 49.8,168.35 49.88,168.33 49.96,168.31 50.04,168.3 50.12,168.3 50.2,168.31 50.28,168.32 50.36,168.34 50.44,168.36 50.52,168.39 50.6,168.43 50.68,168.48 50.76,168.53 50.84,168.59 50.92,168.66 51,168.73 51.08,168.81 51.16,168.9 51.24,168.99 51.32,169.09 51.4,169.19 51.48,169.31 51.56,169.42 51.64,169.55 51.72,169.68 51.8,169.82 51.88,169.96 51.96,170.11 52.04,170.27 52.12,170.43 52.2,170.6 52.28,170.77 52.36,170.95 52.44,171.14 52.52,171.33 52.6,171.52 52.68,171.72 52.76,171.93 52.84,172.14 52.92,172.36 53,172.58 53.08,172.81 53.16,173.04 53.24,173.28 53.32,173.52 53.4,173.77 53.48,174.02 53.56,174.28 53.64,174.54 53.72,174.8 53.8,175.07 53.88,175.34 53.96,175.62 54.04,175.9 54.12,176.18 54.2,176.47 54.28,176.76 54.36,177.05 54.44,177.35 54.52,177.65 54.6,177.95 54.68,178.26 54.76,178.57 54.84,178.88 54.92,179.19 55,179.5 55.08,179.82 55.16,180.14 55.24,180.46 55.32,180.78 55.4,181.11 55.48,181.43 55.56,181.76 55.64,182.09 55.72,182.42 55.8,182.74 55.88,183.07 55.96,183.41 56.04,183.74 56.12,184.07 56.2,184.4 56.28,184.73 56.36,185.06 56.44,185.39 56.52,185.73 56.6,186.06 56.68,186.38 56.76,186.71 56.84,187.04 56.92,187.37 57,187.69 57.08,188.02 57.16,188.34 57.24,188.66 57.32,188.98 57.4,189.3 57.48,189.61 57.56,189.92 57.64,190.23 57.72,190.54 57.8,190.85 57.88,191.15 57.96,191.45 58.04,191.75 58.12,192.04 58.2,192.33 58.28,192.62 58.36,192.9 58.44,193.18 58.52,193.46 58.6,193.73 58.68,194 58.76,194.26 58.84,194.52 58.92,194.78 59,195.03 59.08,195.28 59.16,195.52 59.24,195.76 59.32,195.99 59.4,196.22 59.48,196.44 59.56,196.66 59.64,196.87 59.72,197.08 59.8,197.28 59.88,197.47 59.96,197.66 60.04,197.85 60.12,198.03 60.2,198.2 60.28,198.37 60.36,198.53 60.44,198.69 60.52,198.84 60.6,198.98 60.68,199.12 60.76,199.25 60.84,199.38 60.92,199.49 61,199.61 61.08,199.71 61.16,199.81 61.24,199.9 61.32,199.99 61.4,200.07 61.48,200.14 61.56,200.21 61.64,200.27 61.72,200.32 61.8,200.37 61.88,200.41 61.96,200.44 62.04,200.46 62.12,200.48 62.2,200.49 62.28,200.5 62.36,200.5 62.44,200.48 62.52,200.45 62.6,200.41 62.68,200.35 62.76,200.28 62.84,200.2 62.92,200.11 63,200 63.08,199.88 63.16,199.75 63.24,199.6 63.32,199.44 63.4,199.27 63.48,199.09 63.56,198.9 63.64,198.69 63.72,198.48 63.8,198.25 63.88,198.01 63.96,197.75 64.04,197.49 64.12,197.22 64.2,196.94 64.28,196.64 64.36,196.34 64.44,196.03 64.52,195.7 64.6,195.37 64.68,195.03 64.76,194.68 64.84,194.32 64.92,193.96 65,193.58 65.08,193.2 65.16,192.81 65.24,192.42 65.32,192.01 65.4,191.61 65.48,191.19 65.56,190.77 65.64,190.35 65.72,189.92 65.8,189.48 65.88,189.05 65.96,188.6 66.04,188.16 66.12,187.71 66.2,187.26 66.28,186.8 66.36,186.35 66.44,185.89 66.52,185.43 66.6,184.97 66.68,184.51 66.76,184.06 66.84,183.6 66.92,183.14 67,182.68 67.08,182.22 67.16,181.77 67.24,181.32 67.32,180.87 67.4,180.42 67.48,179.97 67.56,179.53 67.64,179.1 67.72,178.67 67.8,178.24 67.88,177.82 67.96,177.4 68.04,176.99 68.12,176.58 68.2,176.18 68.28,175.79 68.36,175.41 68.44,175.03 68.52,174.66 68.6,174.3 68.68,173.94 68.76,173.6 68.84,173.26 68.92,172.93 69,172.62 69.08,172.31 69.16,172.01 69.24,171.72 69.32,171.44 69.4,171.18 69.48,170.92 69.56,170.67 69.64,170.44 69.72,170.21 69.8,170 69.88,169.8 69.96,169.62 70.04,169.44 70.12,169.28 70.2,169.12 70.28,168.98 70.36,168.86 70.44,168.74 70.52,168.64 70.6,168.56 70.68,168.48 70.76,168.42 70.84,168.37 70.92,168.33 71,168.31 71.08,168.3 71.16,168.31 71.24,168.34 71.32,168.4 71.4,168.49 71.48,168.61 71.56,168.75 71.64,168.92 71.72,169.11 71.8,169.33 71.88,169.58 71.96,169.85 72.04,170.15 72.12,170.47 72.2,170.82 72.28,171.18 72.36,171.57 72.44,171.98 72.52,172.42 72.6,172.87 72.68,173.34 72.76,173.83 72.84,174.34 72.92,174.87 73,175.41 73.08,175.97 73.16,176.54 73.24,177.13 73.32,177.73 73.4,178.33 73.48,178.95 73.56,179.58 73.64,180.22 73.72,180.86 73.8,181.51 73.88,182.17 73.96,182.83 74.04,183.49 74.12,184.15 74.2,184.81 74.28,185.48 74.36,186.14 74.44,186.8 74.52,187.45 74.6,188.1 74.68,188.74 74.76,189.38 74.84,190 74.92,190.62 75,191.23 75.08,191.82 75.16,192.4 75.24,192.97 75.32,193.52 75.4,194.06 75.48,194.59 75.56,195.09 75.64,195.58 75.72,196.05 75.8,196.49 75.88,196.92 75.96,197.33 76.04,197.71 76.12,198.07 76.2,198.41 76.28,198.73 76.36,199.02 76.44,199.28 76.52,199.52 76.6,199.74 76.68,199.93 76.76,200.09 76.84,200.22 76.92,200.33 77,200.41 77.08,200.47 77.16,200.5 77.24,200.49 77.32,200.44 77.4,200.32 77.48,200.15 77.56,199.92 77.64,199.64 77.72,199.3 77.8,198.91 77.88,198.46 77.96,197.97 78.04,197.43 78.12,196.84 78.2,196.2 78.28,195.53 78.36,194.81 78.44,194.06 78.52,193.27 78.6,192.45 78.68,191.6 78.76,190.73 78.84,189.83 78.92,188.91 79,187.98 79.08,187.04 79.16,186.08 79.24,185.12 79.32,184.16 79.4,183.2 79.48,182.24 79.56,181.29 79.64,180.35 79.72,179.42 79.8,178.52 79.88,177.63 79.96,176.77 80.04,175.94 80.12,175.13 80.2,174.36 80.28,173.63 80.36,172.93 80.44,172.28 80.52,171.66 80.6,171.1 80.68,170.58 80.76,170.11 80.84,169.69 80.92,169.33 81,169.02 81.08,168.76 81.16,168.56 81.24,168.42 81.32,168.33 81.4,168.3 81.48,168.36 81.56,168.56 81.64,168.88 81.72,169.33 81.8,169.89 81.88,170.58 81.96,171.37 82.04,172.28 82.12,173.27 82.2,174.36 82.28,175.53 82.36,176.77 82.44,178.07 82.52,179.42 82.6,180.82 82.68,182.24 82.76,183.68 82.84,185.12 82.92,186.56 83,187.98 83.08,189.38 83.16,190.73 83.24,192.03 83.32,193.27 83.4,194.44 83.48,195.53 83.56,196.52 83.64,197.43 83.72,198.22 83.8,198.91 83.88,199.47 83.96,199.92 84.04,200.24 84.12,200.44 84.2,200.5 84.28,200.43 84.36,200.22 84.44,199.88 84.52,199.4 84.6,198.79 84.68,198.05 84.76,197.2 84.84,196.24 84.92,195.17 85,194.01 85.08,192.77 85.16,191.46 85.24,190.08 85.32,188.66 85.4,187.2 85.48,185.71 85.56,184.21 85.64,182.72 85.72,181.24 85.8,179.78 85.88,178.37 85.96,177.01 86.04,175.71 86.12,174.49 86.2,173.35 86.28,172.31 86.36,171.37 86.44,170.55 86.52,169.85 86.6,169.27 86.68,168.82 86.76,168.51 86.84,168.34 86.92,168.33 87,168.95 87.08,170.38 87.16,172.54 87.24,175.31 87.32,178.56 87.4,182.11 87.48,185.78 87.56,189.38 87.64,192.71 87.72,195.62 87.8,197.94 87.88,199.56 87.96,200.4 88.04,200.44 88.12,199.99 88.2,199.11 88.28,197.81 88.36,196.14 88.44,194.13 88.52,191.86 88.6,189.38 88.68,186.75 88.76,184.06 88.84,181.38 88.92,178.79 89,176.35 89.08,174.14 89.16,172.21 89.24,170.63 89.32,169.43 89.4,168.65 89.48,168.31 89.56,168.54 89.64,169.57 89.72,171.37 89.8,173.86 89.88,176.89 89.96,180.31 90.04,183.94 90.12,187.6 90.2,191.09 90.28,194.23 90.36,196.86 90.44,198.85 90.52,200.08 90.6,200.5 90.68,200.2 90.76,199.31 90.84,197.87 90.92,195.92 91,193.55 91.08,190.83 91.16,187.87 91.24,184.79 91.32,181.69 91.4,178.69 91.48,175.9 91.56,173.44 91.64,171.37 91.72,169.8 91.8,168.77 91.88,168.32 91.96,168.88 92.04,171.37 92.12,175.53 92.2,180.82 92.28,186.56 92.36,192.03 92.44,196.52 92.52,199.47 92.6,200.5" fill="none" stroke="#000" stroke-width="0.95" stroke-linejoin="round" stroke-linecap="round"/>
<polygon points="100.2,163.9 104.8,163.9 104.8,194.2 109.85,194.2 102.5,201.8 95.15,194.2 100.2,194.2" fill="#8dc63f" stroke="none" stroke-width="1"/>
<text x="105.7" y="185.6" font-family="Liberation Serif" font-size="8" text-anchor="start" fill="#000" stroke="#000" stroke-width="0.14">Input</text>
<polygon points="40.1,201.7 106.7,201.7 119.8,229.5 118,248.8 26.4,248.8 24.6,229.5" fill="#e4e4e4" stroke="none" stroke-width="1"/>
<polygon points="41.7,214.3 105.1,214.3 118,246.4 26.4,246.4" fill="#5f6664" stroke="none" stroke-width="1"/>
<polyline points="41.7,214.3 26.4,246.4" fill="none" stroke="#c95c6a" stroke-width="0.7" stroke-linejoin="round" stroke-linecap="round"/>
<polyline points="105.1,214.3 118,246.4" fill="none" stroke="#c95c6a" stroke-width="0.7" stroke-linejoin="round" stroke-linecap="round"/>
<polygon points="26.4,246.4 118,246.4 118,251 26.4,251" fill="#cc5e6c" stroke="none" stroke-width="1"/>
<polygon points="45.7,209.5 81.8,209.5 82.6,215.9 44.1,215.9" fill="#6c7271" stroke="none" stroke-width="1"/>
<polygon points="42.5,215.9 82.6,215.9 82.6,223.9 40.1,223.9" fill="#c4c9ca" stroke="none" stroke-width="1"/>
<polygon points="40.1,223.9 82.6,223.9 83.4,232.7 36,232.7" fill="#70767a" stroke="none" stroke-width="1"/>
<polygon points="35.3,232.7 83.4,232.7 83.4,246.4 35.3,246.4" fill="#5b5f56" stroke="none" stroke-width="1"/>
<polygon points="89.6,211.2 101.2,211.2 101.6,215 89.6,215" fill="#6a7070" stroke="none" stroke-width="1"/>
<polygon points="89.6,215 101.6,215 107.6,231 89.6,231" fill="#646a6a" stroke="none" stroke-width="1"/>
<polygon points="89.6,231 107.6,231 107.6,246.4 89.6,246.4" fill="#5e645e" stroke="none" stroke-width="1"/>
<polygon points="40.1,201.7 106.7,201.7 119.8,229.5 118,248.8 26.4,248.8 24.6,229.5" fill="#ffffff" stroke="none" stroke-width="1" fill-opacity="0.05"/>
<text x="72.5" y="258.5" font-family="Liberation Serif" font-size="8" text-anchor="middle" fill="#000" stroke="#000" stroke-width="0.14">High-pass</text>
<polygon points="122.4,225.4 171.4,225.4 171.4,218.3 184.5,228.1 171.4,237.9 171.4,230.8 122.4,230.8" fill="#8dc63f" stroke="none" stroke-width="1"/>
<polyline points="123.1,228.1 123.15,228.07 123.2,228.04 123.25,228.01 123.3,227.98 123.35,227.95 123.4,227.92 123.45,227.89 123.5,227.86 123.55,227.83 123.6,227.8 123.65,227.77 123.7,227.74 123.75,227.71 123.8,227.69 123.85,227.66 123.9,227.63 123.95,227.6 124,227.57 124.05,227.54 124.1,227.51 124.15,227.48 124.2,227.45 124.25,227.42 124.3,227.39 124.35,227.37 124.4,227.34 124.45,227.31 124.5,227.28 124.55,227.25 124.6,227.22 124.65,227.2 124.7,227.17 124.75,227.14 124.8,227.11 124.85,227.08 124.9,227.06 124.95,227.03 125,227 125.05,226.98 125.1,226.95 125.15,226.92 125.2,226.9 125.25,226.87 125.3,226.84 125.35,226.82 125.4,226.79 125.45,226.76 125.5,226.74 125.55,226.71 125.6,226.69 125.65,226.66 125.7,226.64 125.75,226.61 125.8,226.59 125.85,226.56 125.9,226.54 125.95,226.51 126,226.49 126.05,226.47 126.1,226.44 126.15,226.42 126.2,226.4 126.25,226.37 126.3,226.35 126.35,226.33 126.4,226.31 126.45,226.28 126.5,226.26 126.55,226.24 126.6,226.22 126.65,226.2 126.7,226.18 126.75,226.16 126.8,226.14 126.85,226.11 126.9,226.09 126.95,226.08 127,226.06 127.05,226.04 127.1,226.02 127.15,226 127.2,225.98 127.25,225.96 127.3,225.94 127.35,225.93 127.4,225.91 127.45,225.89 127.5,225.87 127.55,225.86 127.6,225.84 127.65,225.82 127.7,225.81 127.75,225.79 127.8,225.78 127.85,225.76 127.9,225.75 127.95,225.73 128,225.72 128.05,225.71 128.1,225.69 128.15,225.68 128.2,225.67 128.25,225.65 128.3,225.64 128.35,225.63 128.4,225.62 128.45,225.61 128.5,225.6 128.55,225.58 128.6,225.57 128.65,225.56 128.7,225.55 128.75,225.54 128.8,225.54 128.85,225.53 128.9,225.52 128.95,225.51 129,225.5 129.05,225.49 129.1,225.49 129.15,225.48 129.2,225.47 129.25,225.47 129.3,225.46 129.35,225.46 129.4,225.45 129.45,225.45 129.5,225.44 129.55,225.44 129.6,225.43 129.65,225.43 129.7,225.43 129.75,225.43 129.8,225.42 129.85,225.42 129.9,225.42 129.95,225.42 130,225.42 130.05,225.42 130.1,225.42 130.15,225.42 130.2,225.42 130.25,225.42 130.3,225.43 130.35,225.43 130.4,225.43 130.45,225.44 130.5,225.44 130.55,225.44 130.6,225.45 130.65,225.45 130.7,225.46 130.75,225.47 130.8,225.47 130.85,225.48 130.9,225.49 130.95,225.5 131,225.51 131.05,225.51 131.1,225.52 131.15,225.53 131.2,225.54 131.25,225.56 131.3,225.57 131.35,225.58 131.4,225.59 131.45,225.6 131.5,225.62 131.55,225.63 131.6,225.65 131.65,225.66 131.7,225.68 131.75,225.69 131.8,225.71 131.85,225.72 131.9,225.74 131.95,225.76 132,225.77 132.05,225.79 132.1,225.81 132.15,225.83 132.2,225.85 132.25,225.87 132.3,225.89 132.35,225.91 132.4,225.93 132.45,225.95 132.5,225.98 132.55,226 132.6,226.02 132.65,226.05 132.7,226.07 132.75,226.09 132.8,226.12 132.85,226.14 132.9,226.17 132.95,226.19 133,226.22 133.05,226.25 133.1,226.27 133.15,226.3 133.2,226.33 133.25,226.36 133.3,226.39 133.35,226.42 133.4,226.45 133.45,226.47 133.5,226.51 133.55,226.54 133.6,226.57 133.65,226.6 133.7,226.63 133.75,226.66 133.8,226.69 133.85,226.73 133.9,226.76 133.95,226.79 134,226.83 134.05,226.86 134.1,226.9 134.15,226.93 134.2,226.97 134.25,227 134.3,227.04 134.35,227.07 134.4,227.11 134.45,227.14 134.5,227.18 134.55,227.22 134.6,227.26 134.65,227.29 134.7,227.33 134.75,227.37 134.8,227.41 134.85,227.45 134.9,227.49 134.95,227.53 135,227.57 135.05,227.61 135.1,227.65 135.15,227.69 135.2,227.73 135.25,227.77 135.3,227.81 135.35,227.85 135.4,227.89 135.45,227.93 135.5,227.97 135.55,228.02 135.6,228.06 135.65,228.1 135.7,228.14 135.75,228.18 135.8,228.23 135.85,228.27 135.9,228.31 135.95,228.36 136,228.4 136.05,228.44 136.1,228.49 136.15,228.53 136.2,228.57 136.25,228.62 136.3,228.66 136.35,228.71 136.4,228.75 136.45,228.79 136.5,228.84 136.55,228.88 136.6,228.93 136.65,228.97 136.7,229.01 136.75,229.06 136.8,229.1 136.85,229.15 136.9,229.19 136.95,229.24 137,229.28 137.05,229.32 137.1,229.37 137.15,229.41 137.2,229.46 137.25,229.5 137.3,229.55 137.35,229.59 137.4,229.63 137.45,229.68 137.5,229.72 137.55,229.76 137.6,229.81 137.65,229.85 137.7,229.9 137.75,229.94 137.8,229.98 137.85,230.02 137.9,230.07 137.95,230.11 138,230.15 138.05,230.19 138.1,230.24 138.15,230.28 138.2,230.32 138.25,230.36 138.3,230.4 138.35,230.44 138.4,230.48 138.45,230.52 138.5,230.56 138.55,230.61 138.6,230.64 138.65,230.68 138.7,230.72 138.75,230.76 138.8,230.8 138.85,230.84 138.9,230.88 138.95,230.92 139,230.95 139.05,230.99 139.1,231.03 139.15,231.06 139.2,231.1 139.25,231.13 139.3,231.17 139.35,231.2 139.4,231.24 139.45,231.27 139.5,231.31 139.55,231.34 139.6,231.37 139.65,231.4 139.7,231.44 139.75,231.47 139.8,231.5 139.85,231.53 139.9,231.56 139.95,231.59 140,231.62 140.05,231.65 140.1,231.68 140.15,231.7 140.2,231.73 140.25,231.76 140.3,231.78 140.35,231.81 140.4,231.83 140.45,231.86 140.5,231.88 140.55,231.91 140.6,231.93 140.65,231.95 140.7,231.97 140.75,231.99 140.8,232.01 140.85,232.03 140.9,232.05 140.95,232.07 141,232.09 141.05,232.11 141.1,232.12 141.15,232.14 141.2,232.16 141.25,232.17 141.3,232.19 141.35,232.2 141.4,232.21 141.45,232.22 141.5,232.24 141.55,232.25 141.6,232.26 141.65,232.27 141.7,232.27 141.75,232.28 141.8,232.29 141.85,232.29 141.9,232.29 141.95,232.3 142,232.3 142.05,232.3 142.1,232.3 142.15,232.29 142.2,232.29 142.25,232.28 142.3,232.28 142.35,232.27 142.4,232.26 142.45,232.25 142.5,232.24 142.55,232.22 142.6,232.21 142.65,232.19 142.7,232.18 142.75,232.16 142.8,232.14 142.85,232.12 142.9,232.1 142.95,232.07 143,232.05 143.05,232.02 143.1,231.99 143.15,231.97 143.2,231.94 143.25,231.9 143.3,231.87 143.35,231.84 143.4,231.8 143.45,231.77 143.5,231.73 143.55,231.69 143.6,231.65 143.65,231.61 143.7,231.57 143.75,231.52 143.8,231.48 143.85,231.43 143.9,231.38 143.95,231.34 144,231.29 144.05,231.23 144.1,231.18 144.15,231.13 144.2,231.07 144.25,231.02 144.3,230.96 144.35,230.9 144.4,230.84 144.45,230.78 144.5,230.72 144.55,230.66 144.6,230.6 144.65,230.53 144.7,230.47 144.75,230.4 144.8,230.33 144.85,230.26 144.9,230.2 144.95,230.12 145,230.05 145.05,229.98 145.1,229.91 145.15,229.83 145.2,229.76 145.25,229.68 145.3,229.61 145.35,229.53 145.4,229.45 145.45,229.37 145.5,229.29 145.55,229.21 145.6,229.13 145.65,229.05 145.7,228.96 145.75,228.88 145.8,228.79 145.85,228.71 145.9,228.62 145.95,228.54 146,228.45 146.05,228.36 146.1,228.28 146.15,228.19 146.2,228.1 146.25,228.01 146.3,227.92 146.35,227.83 146.4,227.74 146.45,227.65 146.5,227.56 146.55,227.47 146.6,227.38 146.65,227.29 146.7,227.19 146.75,227.1 146.8,227.01 146.85,226.92 146.9,226.83 146.95,226.73 147,226.64 147.05,226.55 147.1,226.45 147.15,226.36 147.2,226.27 147.25,226.18 147.3,226.09 147.35,225.99 147.4,225.9 147.45,225.81 147.5,225.72 147.55,225.63 147.6,225.54 147.65,225.44 147.7,225.35 147.75,225.26 147.8,225.17 147.85,225.09 147.9,225 147.95,224.91 148,224.82 148.05,224.73 148.1,224.65 148.15,224.56 148.2,224.48 148.25,224.39 148.3,224.31 148.35,224.22 148.4,224.14 148.45,224.06 148.5,223.98 148.55,223.9 148.6,223.82 148.65,223.74 148.7,223.66 148.75,223.59 148.8,223.51 148.85,223.44 148.9,223.36 148.95,223.29 149,223.22 149.05,223.15 149.1,223.08 149.15,223.01 149.2,222.94 149.25,222.88 149.3,222.81 149.35,222.75 149.4,222.69 149.45,222.63 149.5,222.57 149.55,222.51 149.6,222.46 149.65,222.4 149.7,222.35 149.75,222.29 149.8,222.24 149.85,222.19 149.9,222.15 149.95,222.1 150,222.06 150.05,222.01 150.1,221.97 150.15,221.93 150.2,221.89 150.25,221.86 150.3,221.82 150.35,221.79 150.4,221.76 150.45,221.73 150.5,221.7 150.55,221.68 150.6,221.65 150.65,221.63 150.7,221.61 150.75,221.59 150.8,221.57 150.85,221.56 150.9,221.55 150.95,221.54 151,221.54 151.05,221.55 151.1,221.56 151.15,221.57 151.2,221.59 151.25,221.61 151.3,221.64 151.35,221.67 151.4,221.71 151.45,221.75 151.5,221.79 151.55,221.84 151.6,221.9 151.65,221.96 151.7,222.02 151.75,222.09 151.8,222.16 151.85,222.24 151.9,222.32 151.95,222.41 152,222.5 152.05,222.6 152.1,222.69 152.15,222.8 152.2,222.91 152.25,223.02 152.3,223.13 152.35,223.25 152.4,223.38 152.45,223.51 152.5,223.64 152.55,223.77 152.6,223.91 152.65,224.05 152.7,224.2 152.75,224.35 152.8,224.5 152.85,224.66 152.9,224.82 152.95,224.98 153,225.14 153.05,225.31 153.1,225.48 153.15,225.66 153.2,225.83 153.25,226.01 153.3,226.19 153.35,226.38 153.4,226.56 153.45,226.75 153.5,226.94 153.55,227.13 153.6,227.32 153.65,227.51 153.7,227.71 153.75,227.9 153.8,228.1 153.85,228.3 153.9,228.5 153.95,228.7 154,228.9 154.05,229.1 154.1,229.3 154.15,229.5 154.2,229.7 154.25,229.9 154.3,230.1 154.35,230.3 154.4,230.5 154.45,230.7 154.5,230.9 154.55,231.09 154.6,231.29 154.65,231.49 154.7,231.68 154.75,231.87 154.8,232.06 154.85,232.25 154.9,232.43 154.95,232.62 155,232.8 155.05,232.98 155.1,233.16 155.15,233.33 155.2,233.5 155.25,233.67 155.3,233.83 155.35,234 155.4,234.15 155.45,234.31 155.5,234.46 155.55,234.61 155.6,234.75 155.65,234.89 155.7,235.03 155.75,235.16 155.8,235.29 155.85,235.41 155.9,235.53 155.95,235.65 156,235.76 156.05,235.86 156.1,235.96 156.15,236.06 156.2,236.15 156.25,236.23 156.3,236.31 156.35,236.38 156.4,236.45 156.45,236.52 156.5,236.57 156.55,236.63 156.6,236.67 156.65,236.71 156.7,236.75 156.75,236.78 156.8,236.8 156.85,236.82 156.9,236.82 156.95,236.82 157,236.82 157.05,236.8 157.1,236.78 157.15,236.75 157.2,236.71 157.25,236.66 157.3,236.6 157.35,236.54 157.4,236.46 157.45,236.38 157.5,236.3 157.55,236.2 157.6,236.09 157.65,235.98 157.7,235.86 157.75,235.73 157.8,235.6 157.85,235.46 157.9,235.31 157.95,235.15 158,234.98 158.05,234.81 158.1,234.63 158.15,234.45 158.2,234.25 158.25,234.06 158.3,233.85 158.35,233.64 158.4,233.42 158.45,233.2 158.5,232.97 158.55,232.73 158.6,232.49 158.65,232.25 158.7,232 158.75,231.74 158.8,231.48 158.85,231.22 158.9,230.95 158.95,230.68 159,230.4 159.05,230.12 159.1,229.84 159.15,229.56 159.2,229.27 159.25,228.98 159.3,228.69 159.35,228.4 159.4,228.1 159.45,227.8 159.5,227.51 159.55,227.21 159.6,226.91 159.65,226.61 159.7,226.31 159.75,226.01 159.8,225.71 159.85,225.41 159.9,225.12 159.95,224.82 160,224.53 160.05,224.24 160.1,223.95 160.15,223.66 160.2,223.38 160.25,223.1 160.3,222.82 160.35,222.55 160.4,222.28 160.45,222.01 160.5,221.75 160.55,221.49 160.6,221.24 160.65,220.99 160.7,220.75 160.75,220.52 160.8,220.29 160.85,220.07 160.9,219.85 160.95,219.64 161,219.44 161.05,219.24 161.1,219.05 161.15,218.87 161.2,218.7 161.25,218.53 161.3,218.37 161.35,218.22 161.4,218.08 161.45,217.95 161.5,217.82 161.55,217.71 161.6,217.6 161.65,217.51 161.7,217.42 161.75,217.34 161.8,217.27 161.85,217.22 161.9,217.17 161.95,217.13 162,217.1 162.05,217.1 162.1,217.14 162.15,217.24 162.2,217.38 162.25,217.57 162.3,217.8 162.35,218.08 162.4,218.4 162.45,218.77 162.5,219.18 162.55,219.63 162.6,220.11 162.65,220.64 162.7,221.2 162.75,221.79 162.8,222.4 162.85,223.05 162.9,223.72 162.95,224.41 163,225.13 163.05,225.85 163.1,226.59 163.15,227.34 163.2,228.1 163.25,228.86 163.3,229.62 163.35,230.38 163.4,231.13 163.45,231.87 163.5,232.59 163.55,233.3 163.6,233.99 163.65,234.66 163.7,235.31 163.75,235.92 163.8,236.51 163.85,237.06 163.9,237.57 163.95,238.05 164,238.49 164.05,238.88 164.1,239.23 164.15,239.53 164.2,239.78 164.25,239.99 164.3,240.14 164.35,240.25 164.4,240.3 164.45,240.3 164.5,240.27 164.55,240.19 164.6,240.07 164.65,239.91 164.7,239.71 164.75,239.47 164.8,239.19 164.85,238.87 164.9,238.51 164.95,238.11 165,237.68 165.05,237.22 165.1,236.72 165.15,236.19 165.2,235.63 165.25,235.05 165.3,234.43 165.35,233.8 165.4,233.14 165.45,232.46 165.5,231.76 165.55,231.05 165.6,230.33 165.65,229.59 165.7,228.85 165.75,228.1 165.8,227.35 165.85,226.6 165.9,225.84 165.95,225.1 166,224.36 166.05,223.63 166.1,222.91 166.15,222.21 166.2,221.52 166.25,220.86 166.3,220.21 166.35,219.59 166.4,219 166.45,218.43 166.5,217.9 166.55,217.4 166.6,216.93 166.65,216.5 166.7,216.1 166.75,215.75 166.8,215.43 166.85,215.16 166.9,214.93 166.95,214.74 167,214.6 167.05,214.5 167.1,214.45 167.15,214.49 167.2,214.66 167.25,214.96 167.3,215.39 167.35,215.94 167.4,216.61 167.45,217.4 167.5,218.29 167.55,219.28 167.6,220.36 167.65,221.52 167.7,222.75 167.75,224.03 167.8,225.36 167.85,226.72 167.9,228.1 167.95,229.48 168,230.86 168.05,232.22 168.1,233.54 168.15,234.81 168.2,236.03 168.25,237.17 168.3,238.23 168.35,239.2 168.4,240.06 168.45,240.81 168.5,241.44 168.55,241.95 168.6,242.32 168.65,242.56 168.7,242.66 168.75,242.62 168.8,242.44 168.85,242.12 168.9,241.66 168.95,241.07 169,240.35 169.05,239.51 169.1,238.56 169.15,237.5 169.2,236.35 169.25,235.12 169.3,233.81 169.35,232.44 169.4,231.02 169.45,229.57 169.5,228.1 169.55,226.62 169.6,225.16 169.65,223.71 169.7,222.3 169.75,220.94 169.8,219.65 169.85,218.43 169.9,217.3 169.95,216.27 170,215.35 170.05,214.55 170.1,213.88 170.15,213.34 170.2,212.95 170.25,212.69 170.3,212.59 170.35,212.8 170.4,213.47 170.45,214.59 170.5,215.46 170.55,216.69 170.6,218.6 170.65,221.17 170.7,224.37 170.75,228.1 170.8,232.27 170.85,236.74 170.9,241.35 170.95,245.94 171,250.32 171.05,254.3 171.1,257.7 171.15,260.35 171.2,262.1 171.25,262.47 171.3,260.99 171.35,257.61 171.4,252.42 171.45,245.56 171.5,237.33 171.55,228.1 171.6,218.31 171.65,208.47 171.7,199.11 171.75,190.77 171.8,183.95 171.85,179.11" fill="none" stroke="#e83a2a" stroke-width="0.7" stroke-linejoin="round" stroke-linecap="round"/>
<line x1="171.6" y1="195" x2="171.6" y2="256" stroke="#e83a2a" stroke-width="0.8"/>
<text x="146.2" y="244.9" font-family="Liberation Serif" font-size="8" text-anchor="middle" fill="#000" stroke="#000" stroke-width="0.14">Output</text>
<text x="6.5" y="287.8" font-family="Liberation Serif" font-size="20.5" text-anchor="start" fill="#000">i</text>
<polyline points="30.3,320 30.38,319.66 30.46,319.31 30.54,318.97 30.62,318.63 30.7,318.29 30.78,317.95 30.86,317.61 30.94,317.27 31.02,316.93 31.1,316.6 31.18,316.26 31.26,315.93 31.34,315.6 31.42,315.27 31.5,314.94 31.58,314.62 31.66,314.3 31.74,313.98 31.82,313.66 31.9,313.35 31.98,313.04 32.06,312.73 32.14,312.42 32.22,312.12 32.3,311.83 32.38,311.53 32.46,311.24 32.54,310.96 32.62,310.68 32.7,310.4 32.78,310.13 32.86,309.86 32.94,309.59 33.02,309.33 33.1,309.08 33.18,308.83 33.26,308.59 33.34,308.35 33.42,308.11 33.5,307.88 33.58,307.66 33.66,307.44 33.74,307.23 33.82,307.03 33.9,306.83 33.98,306.63 34.06,306.44 34.14,306.26 34.22,306.09 34.3,305.92 34.38,305.75 34.46,305.6 34.54,305.45 34.62,305.3 34.7,305.17 34.78,305.04 34.86,304.91 34.94,304.8 35.02,304.69 35.1,304.59 35.18,304.49 35.26,304.4 35.34,304.32 35.42,304.25 35.5,304.18 35.58,304.12 35.66,304.07 35.74,304.02 35.82,303.98 35.9,303.95 35.98,303.93 36.06,303.91 36.14,303.9 36.22,303.9 36.3,303.91 36.38,303.92 36.46,303.94 36.54,303.96 36.62,303.99 36.7,304.03 36.78,304.08 36.86,304.13 36.94,304.19 37.02,304.26 37.1,304.33 37.18,304.41 37.26,304.5 37.34,304.59 37.42,304.69 37.5,304.79 37.58,304.91 37.66,305.02 37.74,305.15 37.82,305.28 37.9,305.42 37.98,305.56 38.06,305.71 38.14,305.87 38.22,306.03 38.3,306.2 38.38,306.37 38.46,306.55 38.54,306.74 38.62,306.93 38.7,307.12 38.78,307.32 38.86,307.53 38.94,307.74 39.02,307.96 39.1,308.18 39.18,308.41 39.26,308.64 39.34,308.88 39.42,309.12 39.5,309.37 39.58,309.62 39.66,309.88 39.74,310.14 39.82,310.4 39.9,310.67 39.98,310.94 40.06,311.22 40.14,311.5 40.22,311.78 40.3,312.07 40.38,312.36 40.46,312.65 40.54,312.95 40.62,313.25 40.7,313.55 40.78,313.86 40.86,314.17 40.94,314.48 41.02,314.79 41.1,315.1 41.18,315.42 41.26,315.74 41.34,316.06 41.42,316.38 41.5,316.71 41.58,317.03 41.66,317.36 41.74,317.69 41.82,318.02 41.9,318.34 41.98,318.67 42.06,319.01 42.14,319.34 42.22,319.67 42.3,320 42.38,320.33 42.46,320.66 42.54,320.99 42.62,321.33 42.7,321.66 42.78,321.98 42.86,322.31 42.94,322.64 43.02,322.97 43.1,323.29 43.18,323.62 43.26,323.94 43.34,324.26 43.42,324.58 43.5,324.9 43.58,325.21 43.66,325.52 43.74,325.83 43.82,326.14 43.9,326.45 43.98,326.75 44.06,327.05 44.14,327.35 44.22,327.64 44.3,327.93 44.38,328.22 44.46,328.5 44.54,328.78 44.62,329.06 44.7,329.33 44.78,329.6 44.86,329.86 44.94,330.12 45.02,330.38 45.1,330.63 45.18,330.88 45.26,331.12 45.34,331.36 45.42,331.59 45.5,331.82 45.58,332.04 45.66,332.26 45.74,332.47 45.82,332.68 45.9,332.88 45.98,333.07 46.06,333.26 46.14,333.45 46.22,333.63 46.3,333.8 46.38,333.97 46.46,334.13 46.54,334.29 46.62,334.44 46.7,334.58 46.78,334.72 46.86,334.85 46.94,334.98 47.02,335.09 47.1,335.21 47.18,335.31 47.26,335.41 47.34,335.5 47.42,335.59 47.5,335.67 47.58,335.74 47.66,335.81 47.74,335.87 47.82,335.92 47.9,335.97 47.98,336.01 48.06,336.04 48.14,336.06 48.22,336.08 48.3,336.09 48.38,336.1 48.46,336.1 48.54,336.08 48.62,336.05 48.7,336.01 48.78,335.95 48.86,335.88 48.94,335.8 49.02,335.71 49.1,335.6 49.18,335.48 49.26,335.35 49.34,335.2 49.42,335.04 49.5,334.87 49.58,334.69 49.66,334.5 49.74,334.29 49.82,334.08 49.9,333.85 49.98,333.61 50.06,333.35 50.14,333.09 50.22,332.82 50.3,332.54 50.38,332.24 50.46,331.94 50.54,331.63 50.62,331.3 50.7,330.97 50.78,330.63 50.86,330.28 50.94,329.92 51.02,329.56 51.1,329.18 51.18,328.8 51.26,328.41 51.34,328.02 51.42,327.61 51.5,327.21 51.58,326.79 51.66,326.37 51.74,325.95 51.82,325.52 51.9,325.08 51.98,324.65 52.06,324.2 52.14,323.76 52.22,323.31 52.3,322.86 52.38,322.4 52.46,321.95 52.54,321.49 52.62,321.03 52.7,320.57 52.78,320.11 52.86,319.66 52.94,319.2 53.02,318.74 53.1,318.28 53.18,317.82 53.26,317.37 53.34,316.92 53.42,316.47 53.5,316.02 53.58,315.57 53.66,315.13 53.74,314.7 53.82,314.27 53.9,313.84 53.98,313.42 54.06,313 54.14,312.59 54.22,312.18 54.3,311.78 54.38,311.39 54.46,311.01 54.54,310.63 54.62,310.26 54.7,309.9 54.78,309.54 54.86,309.2 54.94,308.86 55.02,308.53 55.1,308.22 55.18,307.91 55.26,307.61 55.34,307.32 55.42,307.04 55.5,306.78 55.58,306.52 55.66,306.27 55.74,306.04 55.82,305.81 55.9,305.6 55.98,305.4 56.06,305.22 56.14,305.04 56.22,304.88 56.3,304.72 56.38,304.58 56.46,304.46 56.54,304.34 56.62,304.24 56.7,304.16 56.78,304.08 56.86,304.02 56.94,303.97 57.02,303.93 57.1,303.91 57.18,303.9 57.26,303.91 57.34,303.94 57.42,304 57.5,304.09 57.58,304.21 57.66,304.35 57.74,304.52 57.82,304.71 57.9,304.93 57.98,305.18 58.06,305.45 58.14,305.75 58.22,306.07 58.3,306.42 58.38,306.78 58.46,307.17 58.54,307.58 58.62,308.02 58.7,308.47 58.78,308.94 58.86,309.43 58.94,309.94 59.02,310.47 59.1,311.01 59.18,311.57 59.26,312.14 59.34,312.73 59.42,313.33 59.5,313.93 59.58,314.55 59.66,315.18 59.74,315.82 59.82,316.46 59.9,317.11 59.98,317.77 60.06,318.43 60.14,319.09 60.22,319.75 60.3,320.41 60.38,321.08 60.46,321.74 60.54,322.4 60.62,323.05 60.7,323.7 60.78,324.34 60.86,324.98 60.94,325.6 61.02,326.22 61.1,326.83 61.18,327.42 61.26,328 61.34,328.57 61.42,329.12 61.5,329.66 61.58,330.19 61.66,330.69 61.74,331.18 61.82,331.65 61.9,332.09 61.98,332.52 62.06,332.93 62.14,333.31 62.22,333.67 62.3,334.01 62.38,334.33 62.46,334.62 62.54,334.88 62.62,335.12 62.7,335.34 62.78,335.53 62.86,335.69 62.94,335.82 63.02,335.93 63.1,336.01 63.18,336.07 63.26,336.1 63.34,336.09 63.42,336.04 63.5,335.92 63.58,335.75 63.66,335.52 63.74,335.24 63.82,334.9 63.9,334.51 63.98,334.06 64.06,333.57 64.14,333.03 64.22,332.44 64.3,331.8 64.38,331.13 64.46,330.41 64.54,329.66 64.62,328.87 64.7,328.05 64.78,327.2 64.86,326.33 64.94,325.43 65.02,324.51 65.1,323.58 65.18,322.64 65.26,321.68 65.34,320.72 65.42,319.76 65.5,318.8 65.58,317.84 65.66,316.89 65.74,315.95 65.82,315.02 65.9,314.12 65.98,313.23 66.06,312.37 66.14,311.54 66.22,310.73 66.3,309.96 66.38,309.23 66.46,308.53 66.54,307.88 66.62,307.26 66.7,306.7 66.78,306.18 66.86,305.71 66.94,305.29 67.02,304.93 67.1,304.62 67.18,304.36 67.26,304.16 67.34,304.02 67.42,303.93 67.5,303.9 67.58,303.96 67.66,304.16 67.74,304.48 67.82,304.93 67.9,305.49 67.98,306.18 68.06,306.97 68.14,307.88 68.22,308.87 68.3,309.96 68.38,311.13 68.46,312.37 68.54,313.67 68.62,315.02 68.7,316.42 68.78,317.84 68.86,319.28 68.94,320.72 69.02,322.16 69.1,323.58 69.18,324.98 69.26,326.33 69.34,327.63 69.42,328.87 69.5,330.04 69.58,331.13 69.66,332.12 69.74,333.03 69.82,333.82 69.9,334.51 69.98,335.07 70.06,335.52 70.14,335.84 70.22,336.04 70.3,336.1 70.38,336.03 70.46,335.82 70.54,335.48 70.62,335 70.7,334.39 70.78,333.65 70.86,332.8 70.94,331.84 71.02,330.77 71.1,329.61 71.18,328.37 71.26,327.06 71.34,325.68 71.42,324.26 71.5,322.8 71.58,321.31 71.66,319.81 71.74,318.32 71.82,316.84 71.9,315.38 71.98,313.97 72.06,312.61 72.14,311.31 72.22,310.09 72.3,308.95 72.38,307.91 72.46,306.97 72.54,306.15 72.62,305.45 72.7,304.87 72.78,304.42 72.86,304.11 72.94,303.94 73.02,303.93 73.1,304.55 73.18,305.98 73.26,308.14 73.34,310.91 73.42,314.16 73.5,317.71 73.58,321.38 73.66,324.98 73.74,328.31 73.82,331.22 73.9,333.54 73.98,335.16 74.06,336 74.14,336.04 74.22,335.59 74.3,334.71 74.38,333.41 74.46,331.74 74.54,329.73 74.62,327.46 74.7,324.98 74.78,322.35 74.86,319.66 74.94,316.98 75.02,314.39 75.1,311.95 75.18,309.74 75.26,307.81 75.34,306.23 75.42,305.03 75.5,304.25 75.58,303.91 75.66,304.14 75.74,305.17 75.82,306.97 75.9,309.46 75.98,312.49 76.06,315.91 76.14,319.54 76.22,323.2 76.3,326.69 76.38,329.83 76.46,332.46 76.54,334.45 76.62,335.68 76.7,336.1 76.78,335.8 76.86,334.91 76.94,333.47 77.02,331.52 77.1,329.15 77.18,326.43 77.26,323.47 77.34,320.39 77.42,317.29 77.5,314.29 77.58,311.5 77.66,309.04 77.74,306.97 77.82,305.4 77.9,304.37 77.98,303.92 78.06,304.48 78.14,306.97 78.22,311.13 78.3,316.42 78.38,322.16 78.46,327.63 78.54,332.12 78.62,335.07 78.7,336.1" fill="none" stroke="#000" stroke-width="0.95" stroke-linejoin="round" stroke-linecap="round"/>
<polygon points="86.2,299.9 90.8,299.9 90.8,330.2 96.9,330.2 88.5,337.8 80.1,330.2 86.2,330.2" fill="#8dc63f" stroke="none" stroke-width="1"/>
<text x="92.3" y="321.7" font-family="Liberation Serif" font-size="8" text-anchor="start" fill="#000" stroke="#000" stroke-width="0.14">Input</text>
<polygon points="30.3,337.3 96.9,337.3 110,365.1 108.2,384.4 16.6,384.4 14.8,365.1" fill="#e4e4e4" stroke="none" stroke-width="1"/>
<polygon points="31.9,349.9 95.3,349.9 108.2,382 16.6,382" fill="#5f6664" stroke="none" stroke-width="1"/>
<polyline points="31.9,349.9 16.6,382" fill="none" stroke="#c95c6a" stroke-width="0.7" stroke-linejoin="round" stroke-linecap="round"/>
<polyline points="95.3,349.9 108.2,382" fill="none" stroke="#c95c6a" stroke-width="0.7" stroke-linejoin="round" stroke-linecap="round"/>
<polygon points="16.6,382 108.2,382 108.2,386.6 16.6,386.6" fill="#cc5e6c" stroke="none" stroke-width="1"/>
<polygon points="35.9,345.1 72,345.1 72.8,351.5 34.3,351.5" fill="#6c7271" stroke="none" stroke-width="1"/>
<polygon points="32.7,351.5 72.8,351.5 72.8,359.5 30.3,359.5" fill="#c4c9ca" stroke="none" stroke-width="1"/>
<polygon points="30.3,359.5 72.8,359.5 73.6,368.3 26.2,368.3" fill="#70767a" stroke="none" stroke-width="1"/>
<polygon points="25.5,368.3 73.6,368.3 73.6,382 25.5,382" fill="#5b5f56" stroke="none" stroke-width="1"/>
<polygon points="79.8,346.8 91.4,346.8 91.8,350.6 79.8,350.6" fill="#6a7070" stroke="none" stroke-width="1"/>
<polygon points="79.8,350.6 91.8,350.6 97.8,366.6 79.8,366.6" fill="#646a6a" stroke="none" stroke-width="1"/>
<polygon points="79.8,366.6 97.8,366.6 97.8,382 79.8,382" fill="#5e645e" stroke="none" stroke-width="1"/>
<polygon points="30.3,337.3 96.9,337.3 110,365.1 108.2,384.4 16.6,384.4 14.8,365.1" fill="#ffffff" stroke="none" stroke-width="1" fill-opacity="0.05"/>
<text x="61.5" y="394" font-family="Liberation Serif" font-size="8" text-anchor="middle" fill="#000" stroke="#000" stroke-width="0.14">Low-pass</text>
<polygon points="112.8,361 162.5,361 162.5,354 175,364 162.5,374.1 162.5,367 112.8,367" fill="#8dc63f" stroke="none" stroke-width="1"/>
<polyline points="115.3,364.5 115.36,364.17 115.42,363.83 115.48,363.5 115.54,363.16 115.6,362.83 115.66,362.49 115.72,362.16 115.78,361.83 115.84,361.5 115.9,361.17 115.96,360.84 116.02,360.51 116.08,360.18 116.14,359.85 116.2,359.52 116.26,359.2 116.32,358.88 116.38,358.55 116.44,358.23 116.5,357.91 116.56,357.6 116.62,357.28 116.68,356.96 116.74,356.65 116.8,356.34 116.86,356.03 116.92,355.73 116.98,355.42 117.04,355.12 117.1,354.82 117.16,354.52 117.22,354.23 117.28,353.93 117.34,353.64 117.4,353.36 117.46,353.07 117.52,352.79 117.58,352.51 117.64,352.24 117.7,351.96 117.76,351.69 117.82,351.43 117.88,351.16 117.94,350.9 118,350.65 118.06,350.39 118.12,350.14 118.18,349.9 118.24,349.65 118.3,349.41 118.36,349.18 118.42,348.95 118.48,348.72 118.54,348.49 118.6,348.27 118.66,348.06 118.72,347.85 118.78,347.64 118.84,347.43 118.9,347.23 118.96,347.04 119.02,346.85 119.08,346.66 119.14,346.48 119.2,346.3 119.26,346.13 119.32,345.96 119.38,345.79 119.44,345.63 119.5,345.48 119.56,345.33 119.62,345.18 119.68,345.04 119.74,344.91 119.8,344.77 119.86,344.65 119.92,344.53 119.98,344.41 120.04,344.3 120.1,344.19 120.16,344.09 120.22,343.99 120.28,343.9 120.34,343.81 120.4,343.73 120.46,343.66 120.52,343.59 120.58,343.52 120.64,343.46 120.7,343.4 120.76,343.35 120.82,343.31 120.88,343.27 120.94,343.23 121,343.2 121.06,343.18 121.12,343.16 121.18,343.15 121.24,343.14 121.3,343.13 121.36,343.14 121.42,343.14 121.48,343.16 121.54,343.18 121.6,343.2 121.66,343.23 121.72,343.27 121.78,343.32 121.84,343.36 121.9,343.42 121.96,343.48 122.02,343.55 122.08,343.62 122.14,343.69 122.2,343.78 122.26,343.87 122.32,343.96 122.38,344.06 122.44,344.17 122.5,344.28 122.56,344.4 122.62,344.52 122.68,344.65 122.74,344.78 122.8,344.92 122.86,345.06 122.92,345.21 122.98,345.37 123.04,345.53 123.1,345.69 123.16,345.86 123.22,346.04 123.28,346.22 123.34,346.4 123.4,346.59 123.46,346.79 123.52,346.99 123.58,347.19 123.64,347.4 123.7,347.62 123.76,347.84 123.82,348.06 123.88,348.29 123.94,348.52 124,348.76 124.06,349 124.12,349.25 124.18,349.5 124.24,349.75 124.3,350.01 124.36,350.27 124.42,350.54 124.48,350.8 124.54,351.08 124.6,351.36 124.66,351.64 124.72,351.92 124.78,352.21 124.84,352.5 124.9,352.79 124.96,353.09 125.02,353.39 125.08,353.69 125.14,354 125.2,354.31 125.26,354.62 125.32,354.94 125.38,355.26 125.44,355.58 125.5,355.9 125.56,356.22 125.62,356.55 125.68,356.88 125.74,357.21 125.8,357.55 125.86,357.88 125.92,358.22 125.98,358.56 126.04,358.9 126.1,359.24 126.16,359.59 126.22,359.93 126.28,360.28 126.34,360.63 126.4,360.97 126.46,361.32 126.52,361.67 126.58,362.03 126.64,362.38 126.7,362.73 126.76,363.08 126.82,363.44 126.88,363.79 126.94,364.15 127,364.5 127.06,364.85 127.12,365.21 127.18,365.56 127.24,365.92 127.3,366.27 127.36,366.62 127.42,366.97 127.48,367.33 127.54,367.68 127.6,368.03 127.66,368.38 127.72,368.72 127.78,369.07 127.84,369.42 127.9,369.76 127.96,370.11 128.02,370.45 128.08,370.79 128.14,371.12 128.2,371.46 128.26,371.8 128.32,372.13 128.38,372.46 128.44,372.79 128.5,373.11 128.56,373.44 128.62,373.76 128.68,374.08 128.74,374.39 128.8,374.71 128.86,375.02 128.92,375.33 128.98,375.63 129.04,375.93 129.1,376.23 129.16,376.53 129.22,376.82 129.28,377.11 129.34,377.39 129.4,377.68 129.46,377.95 129.52,378.23 129.58,378.5 129.64,378.77 129.7,379.03 129.76,379.29 129.82,379.55 129.88,379.8 129.94,380.04 130,380.29 130.06,380.53 130.12,380.76 130.18,380.99 130.24,381.22 130.3,381.44 130.36,381.65 130.42,381.86 130.48,382.07 130.54,382.27 130.6,382.47 130.66,382.66 130.72,382.85 130.78,383.03 130.84,383.21 130.9,383.38 130.96,383.55 131.02,383.71 131.08,383.87 131.14,384.02 131.2,384.16 131.26,384.3 131.32,384.44 131.38,384.57 131.44,384.69 131.5,384.81 131.56,384.92 131.62,385.03 131.68,385.13 131.74,385.23 131.8,385.32 131.86,385.4 131.92,385.48 131.98,385.56 132.04,385.63 132.1,385.69 132.16,385.74 132.22,385.79 132.28,385.84 132.34,385.88 132.4,385.91 132.46,385.94 132.52,385.96 132.58,385.97 132.64,385.98 132.7,385.99 132.76,385.98 132.82,385.96 132.88,385.94 132.94,385.9 133,385.84 133.06,385.78 133.12,385.71 133.18,385.62 133.24,385.52 133.3,385.41 133.36,385.29 133.42,385.16 133.48,385.02 133.54,384.86 133.6,384.7 133.66,384.52 133.72,384.34 133.78,384.14 133.84,383.93 133.9,383.71 133.96,383.48 134.02,383.24 134.08,382.96 134.14,382.68 134.2,382.39 134.26,382.09 134.32,381.78 134.38,381.47 134.44,381.14 134.5,380.81 134.56,380.46 134.62,380.11 134.68,379.76 134.74,379.39 134.8,379.02 134.86,378.64 134.92,378.25 134.98,377.86 135.04,377.46 135.1,377.06 135.16,376.65 135.22,376.23 135.28,375.81 135.34,375.38 135.4,374.95 135.46,374.51 135.52,374.07 135.58,373.63 135.64,373.18 135.7,372.73 135.76,372.27 135.82,371.81 135.88,371.35 135.94,370.89 136,370.42 136.06,369.95 136.12,369.48 136.18,369.01 136.24,368.54 136.3,368.06 136.36,367.59 136.42,367.11 136.48,366.64 136.54,366.16 136.6,365.69 136.66,365.21 136.72,364.74 136.78,364.26 136.84,363.79 136.9,363.32 136.96,362.85 137.02,362.39 137.08,361.92 137.14,361.46 137.2,361 137.26,360.55 137.32,360.1 137.38,359.65 137.44,359.2 137.5,358.76 137.56,358.33 137.62,357.9 137.68,357.47 137.74,357.05 137.8,356.63 137.86,356.22 137.92,355.81 137.98,355.41 138.04,355.02 138.1,354.63 138.16,354.25 138.22,353.87 138.28,353.5 138.34,353.14 138.4,352.79 138.46,352.44 138.52,352.1 138.58,351.77 138.64,351.44 138.7,351.13 138.76,350.82 138.82,350.52 138.88,350.23 138.94,349.95 139,349.67 139.06,349.41 139.12,349.15 139.18,348.9 139.24,348.66 139.3,348.43 139.36,348.22 139.42,348 139.48,347.8 139.54,347.61 139.6,347.43 139.66,347.26 139.72,347.1 139.78,346.95 139.84,346.8 139.9,346.67 139.96,346.55 140.02,346.44 140.08,346.34 140.14,346.25 140.2,346.17 140.26,346.09 140.32,346.03 140.38,345.98 140.44,345.94 140.5,345.91 140.56,345.89 140.62,345.88 140.68,345.88 140.74,345.89 140.8,345.91 140.86,345.95 140.92,346.01 140.98,346.09 141.04,346.18 141.1,346.28 141.16,346.41 141.22,346.56 141.28,346.73 141.34,346.92 141.4,347.13 141.46,347.36 141.52,347.62 141.58,347.89 141.64,348.19 141.7,348.5 141.76,348.84 141.82,349.19 141.88,349.56 141.94,349.95 142,350.36 142.06,350.78 142.12,351.22 142.18,351.68 142.24,352.15 142.3,352.64 142.36,353.14 142.42,353.66 142.48,354.19 142.54,354.73 142.6,355.28 142.66,355.84 142.72,356.42 142.78,357 142.84,357.6 142.9,358.2 142.96,358.81 143.02,359.42 143.08,360.04 143.14,360.67 143.2,361.3 143.26,361.94 143.32,362.58 143.38,363.22 143.44,363.86 143.5,364.5 143.56,365.14 143.62,365.78 143.68,366.42 143.74,367.06 143.8,367.69 143.86,368.32 143.92,368.95 143.98,369.57 144.04,370.18 144.1,370.79 144.16,371.38 144.22,371.97 144.28,372.55 144.34,373.12 144.4,373.68 144.46,374.23 144.52,374.77 144.58,375.29 144.64,375.8 144.7,376.3 144.76,376.78 144.82,377.25 144.88,377.7 144.94,378.14 145,378.55 145.06,378.96 145.12,379.34 145.18,379.7 145.24,380.05 145.3,380.38 145.36,380.69 145.42,380.97 145.48,381.24 145.54,381.49 145.6,381.72 145.66,381.92 145.72,382.11 145.78,382.27 145.84,382.41 145.9,382.53 145.96,382.63 146.02,382.71 146.08,382.76 146.14,382.79 146.2,382.8 146.26,382.74 146.32,382.64 146.38,382.52 146.44,382.35 146.5,382.16 146.56,381.94 146.62,381.68 146.68,381.4 146.74,381.08 146.8,380.74 146.86,380.36 146.92,379.96 146.98,379.54 147.04,379.09 147.1,378.61 147.16,378.11 147.22,377.59 147.28,377.04 147.34,376.48 147.4,375.89 147.46,375.29 147.52,374.67 147.58,374.04 147.64,373.39 147.7,372.73 147.76,372.06 147.82,371.37 147.88,370.68 147.94,369.98 148,369.28 148.06,368.56 148.12,367.85 148.18,367.13 148.24,366.41 148.3,365.69 148.36,364.98 148.42,364.26 148.48,363.55 148.54,362.85 148.6,362.15 148.66,361.46 148.72,360.78 148.78,360.11 148.84,359.46 148.9,358.81 148.96,358.18 149.02,357.57 149.08,356.97 149.14,356.39 149.2,355.82 149.26,355.28 149.32,354.75 149.38,354.25 149.44,353.77 149.5,353.31 149.56,352.87 149.62,352.46 149.68,352.08 149.74,351.71 149.8,351.38 149.86,351.07 149.92,350.78 149.98,350.53 150.04,350.3 150.1,350.09 150.16,349.92 150.22,349.77 150.28,349.66 150.34,349.57 150.4,349.5 150.46,349.47 150.52,349.46 150.58,349.49 150.64,349.54 150.7,349.66 150.76,349.85 150.82,350.11 150.88,350.44 150.94,350.83 151,351.29 151.06,351.82 151.12,352.4 151.18,353.04 151.24,353.73 151.3,354.47 151.36,355.26 151.42,356.09 151.48,356.95 151.54,357.85 151.6,358.78 151.66,359.73 151.72,360.7 151.78,361.68 151.84,362.67 151.9,363.67 151.96,364.67 152.02,365.66 152.08,366.64 152.14,367.6 152.2,368.55 152.26,369.47 152.32,370.36 152.38,371.22 152.44,372.04 152.5,372.83 152.56,373.57 152.62,374.26 152.68,374.9 152.74,375.48 152.8,376.01 152.86,376.48 152.92,376.89 152.98,377.24 153.04,377.52 153.1,377.74 153.16,377.9 153.22,377.99 153.28,378.01 153.34,377.91 153.4,377.7 153.46,377.39 153.52,376.99 153.58,376.5 153.64,375.93 153.7,375.29 153.76,374.58 153.82,373.8 153.88,372.97 153.94,372.09 154,371.16 154.06,370.2 154.12,369.22 154.18,368.21 154.24,367.2 154.3,366.18 154.36,365.17 154.42,364.17 154.48,363.19 154.54,362.23 154.6,361.31 154.66,360.43 154.72,359.6 154.78,358.81 154.84,358.09 154.9,357.42 154.96,356.82 155.02,356.29 155.08,355.83 155.14,355.44 155.2,355.13 155.26,354.89 155.32,354.73 155.38,354.64 155.44,354.64 155.5,354.7 155.56,354.82 155.62,355.07 155.68,355.45 155.74,355.95 155.8,356.57 155.86,357.28 155.92,358.09 155.98,358.98 156.04,359.94 156.1,360.95 156.16,361.99 156.22,363.06 156.28,364.14 156.34,365.21 156.4,366.26 156.46,367.27 156.52,368.24 156.58,369.14 156.64,369.96 156.7,370.7 156.76,371.35 156.82,371.89 156.88,372.32 156.94,372.64 157,372.85 157.06,372.93 157.12,372.9 157.18,372.7 157.24,372.33 157.3,371.81 157.36,371.13 157.42,370.33 157.48,369.42 157.54,368.41 157.6,367.33 157.66,366.21 157.72,365.07 157.78,363.93 157.84,362.82 157.9,361.76 157.96,360.77 158.02,359.87 158.08,359.07 158.14,358.41 158.2,357.88 158.26,357.49 158.32,357.26 158.38,357.19 158.44,357.28 158.5,357.57 158.56,358.07 158.62,358.74 158.68,359.58 158.74,360.54 158.8,361.61 158.86,362.74 158.92,363.91 158.98,365.08 159.04,366.22 159.1,367.28 159.16,368.25 159.22,369.1 159.28,369.8 159.34,370.33 159.4,370.68 159.46,370.85 159.52,370.83 159.58,370.55 159.64,370.01 159.7,369.24 159.76,368.28 159.82,367.17 159.88,365.96 159.94,364.71 160,363.47 160.06,362.3 160.12,361.24 160.18,360.35 160.24,359.65 160.3,359.17 160.36,358.93" fill="none" stroke="#2e2eb8" stroke-width="0.8" stroke-linejoin="round" stroke-linecap="round"/>
<text x="139.2" y="393.6" font-family="Liberation Serif" font-size="8" text-anchor="middle" fill="#000" stroke="#000" stroke-width="0.14">Output</text>
<text x="1" y="450.3" font-family="Liberation Serif" font-size="20.5" text-anchor="start" fill="#000">m</text>
<rect x="14.1" y="454.5" width="152.5" height="56.2" fill="#c8e9ee" stroke="none" stroke-width="1"/>
<rect x="14.1" y="510.7" width="152.5" height="17.5" fill="#b55a62" stroke="none" stroke-width="1"/>
<rect x="14.1" y="491.8" width="25.1" height="18.9" fill="#3d413d" stroke="none" stroke-width="1"/>
<rect x="39.2" y="491.8" width="37.9" height="18.9" fill="#f6f6f4" stroke="none" stroke-width="1"/>
<rect x="77.1" y="491.8" width="25.2" height="18.9" fill="#3d413d" stroke="none" stroke-width="1"/>
<rect x="132" y="491.8" width="34.6" height="18.9" fill="#3d413d" stroke="none" stroke-width="1"/>
<text x="26.65" y="508.5" font-family="Liberation Serif" font-size="19" text-anchor="middle" fill="#fff" stroke="#fff" stroke-width="0.5">S</text>
<text x="90" y="508.5" font-family="Liberation Serif" font-size="19" text-anchor="middle" fill="#fff" stroke="#fff" stroke-width="0.5">D</text>
<text x="149.6" y="508.5" font-family="Liberation Serif" font-size="19" text-anchor="middle" fill="#fff" stroke="#fff" stroke-width="0.5">G</text>
<line x1="43" y1="497.3" x2="46.9" y2="497.3" stroke="#222" stroke-width="1.0"/>
<line x1="53" y1="497.3" x2="56.9" y2="497.3" stroke="#222" stroke-width="1.0"/>
<line x1="63.8" y1="497.3" x2="67.6" y2="497.3" stroke="#222" stroke-width="1.0"/>
<line x1="46.1" y1="501.5" x2="50.2" y2="501.5" stroke="#222" stroke-width="1.0"/>
<line x1="56.9" y1="501.5" x2="60.7" y2="501.5" stroke="#222" stroke-width="1.0"/>
<circle cx="47.3" cy="470.3" r="3.3" fill="url(#ion_red)" stroke="#9a1010" stroke-width="0.4"/>
<line x1="45.25" y1="470.3" x2="49.35" y2="470.3" stroke="#fff" stroke-width="1.05"/>
<line x1="47.3" y1="468.25" x2="47.3" y2="472.35" stroke="#fff" stroke-width="1.05"/>
<circle cx="44.6" cy="481" r="3.3" fill="url(#ion_red)" stroke="#9a1010" stroke-width="0.4"/>
<line x1="42.55" y1="481" x2="46.65" y2="481" stroke="#fff" stroke-width="1.05"/>
<line x1="44.6" y1="478.95" x2="44.6" y2="483.05" stroke="#fff" stroke-width="1.05"/>
<circle cx="56.5" cy="481.5" r="3.3" fill="url(#ion_red)" stroke="#9a1010" stroke-width="0.4"/>
<line x1="54.45" y1="481.5" x2="58.55" y2="481.5" stroke="#fff" stroke-width="1.05"/>
<line x1="56.5" y1="479.45" x2="56.5" y2="483.55" stroke="#fff" stroke-width="1.05"/>
<circle cx="66.5" cy="481.8" r="3.3" fill="url(#ion_red)" stroke="#9a1010" stroke-width="0.4"/>
<line x1="64.45" y1="481.8" x2="68.55" y2="481.8" stroke="#fff" stroke-width="1.05"/>
<line x1="66.5" y1="479.75" x2="66.5" y2="483.85" stroke="#fff" stroke-width="1.05"/>
<circle cx="52.2" cy="487.6" r="3.3" fill="url(#ion_red)" stroke="#9a1010" stroke-width="0.4"/>
<line x1="50.15" y1="487.6" x2="54.25" y2="487.6" stroke="#fff" stroke-width="1.05"/>
<line x1="52.2" y1="485.55" x2="52.2" y2="489.65" stroke="#fff" stroke-width="1.05"/>
<circle cx="61.9" cy="487.6" r="3.3" fill="url(#ion_red)" stroke="#9a1010" stroke-width="0.4"/>
<line x1="59.85" y1="487.6" x2="63.95" y2="487.6" stroke="#fff" stroke-width="1.05"/>
<line x1="61.9" y1="485.55" x2="61.9" y2="489.65" stroke="#fff" stroke-width="1.05"/>
<circle cx="72.2" cy="487.6" r="3.3" fill="url(#ion_red)" stroke="#9a1010" stroke-width="0.4"/>
<line x1="70.15" y1="487.6" x2="74.25" y2="487.6" stroke="#fff" stroke-width="1.05"/>
<line x1="72.2" y1="485.55" x2="72.2" y2="489.65" stroke="#fff" stroke-width="1.05"/>
<circle cx="78.8" cy="476.6" r="3.3" fill="url(#ion_red)" stroke="#9a1010" stroke-width="0.4"/>
<line x1="76.75" y1="476.6" x2="80.85" y2="476.6" stroke="#fff" stroke-width="1.05"/>
<line x1="78.8" y1="474.55" x2="78.8" y2="478.65" stroke="#fff" stroke-width="1.05"/>
<circle cx="95.6" cy="475" r="3.3" fill="url(#ion_red)" stroke="#9a1010" stroke-width="0.4"/>
<line x1="93.55" y1="475" x2="97.65" y2="475" stroke="#fff" stroke-width="1.05"/>
<line x1="95.6" y1="472.95" x2="95.6" y2="477.05" stroke="#fff" stroke-width="1.05"/>
<circle cx="126.5" cy="479.5" r="3.1" fill="url(#ion_green)"/>
<line x1="124.95" y1="479.5" x2="128.05" y2="479.5" stroke="#2c4a1c" stroke-width="0.9"/>
<circle cx="135.1" cy="484.2" r="3.1" fill="url(#ion_green)"/>
<line x1="133.55" y1="484.2" x2="136.65" y2="484.2" stroke="#2c4a1c" stroke-width="0.9"/>
<circle cx="147.7" cy="481.8" r="3.1" fill="url(#ion_green)"/>
<line x1="146.15" y1="481.8" x2="149.25" y2="481.8" stroke="#2c4a1c" stroke-width="0.9"/>
<circle cx="154.3" cy="479.5" r="3.1" fill="url(#ion_green)"/>
<line x1="152.75" y1="479.5" x2="155.85" y2="479.5" stroke="#2c4a1c" stroke-width="0.9"/>
<circle cx="144" cy="488.5" r="3.1" fill="url(#ion_green)"/>
<line x1="142.45" y1="488.5" x2="145.55" y2="488.5" stroke="#2c4a1c" stroke-width="0.9"/>
<circle cx="151.8" cy="488.5" r="3.1" fill="url(#ion_green)"/>
<line x1="150.25" y1="488.5" x2="153.35" y2="488.5" stroke="#2c4a1c" stroke-width="0.9"/>
<circle cx="160" cy="488.5" r="3.1" fill="url(#ion_green)"/>
<line x1="158.45" y1="488.5" x2="161.55" y2="488.5" stroke="#2c4a1c" stroke-width="0.9"/>
<polyline points="141.2,525.4 146.6,525.4 146.6,512.3 151.8,512.3 151.8,525.4 157.7,525.4" fill="none" stroke="#111" stroke-width="1.2" stroke-linejoin="round" stroke-linecap="round"/>
<polygon points="223.2,450.8 262.6,427.2 262.6,525.8 223.2,547.4" fill="#c8e9ee" stroke="none" stroke-width="1"/>
<circle cx="255.6" cy="446" r="3" fill="url(#ion_red)" stroke="#9a1010" stroke-width="0.4"/>
<line x1="253.74" y1="446" x2="257.46" y2="446" stroke="#fff" stroke-width="1.05"/>
<line x1="255.6" y1="444.14" x2="255.6" y2="447.86" stroke="#fff" stroke-width="1.05"/>
<circle cx="255.6" cy="461.3" r="3" fill="url(#ion_red)" stroke="#9a1010" stroke-width="0.4"/>
<line x1="253.74" y1="461.3" x2="257.46" y2="461.3" stroke="#fff" stroke-width="1.05"/>
<line x1="255.6" y1="459.44" x2="255.6" y2="463.16" stroke="#fff" stroke-width="1.05"/>
<circle cx="255.6" cy="476.5" r="3" fill="url(#ion_red)" stroke="#9a1010" stroke-width="0.4"/>
<line x1="253.74" y1="476.5" x2="257.46" y2="476.5" stroke="#fff" stroke-width="1.05"/>
<line x1="255.6" y1="474.64" x2="255.6" y2="478.36" stroke="#fff" stroke-width="1.05"/>
<circle cx="255.6" cy="490.2" r="3" fill="url(#ion_red)" stroke="#9a1010" stroke-width="0.4"/>
<line x1="253.74" y1="490.2" x2="257.46" y2="490.2" stroke="#fff" stroke-width="1.05"/>
<line x1="255.6" y1="488.34" x2="255.6" y2="492.06" stroke="#fff" stroke-width="1.05"/>
<circle cx="255.6" cy="505.8" r="3" fill="url(#ion_red)" stroke="#9a1010" stroke-width="0.4"/>
<line x1="253.74" y1="505.8" x2="257.46" y2="505.8" stroke="#fff" stroke-width="1.05"/>
<line x1="255.6" y1="503.94" x2="255.6" y2="507.66" stroke="#fff" stroke-width="1.05"/>
<circle cx="255.6" cy="522.2" r="3" fill="url(#ion_red)" stroke="#9a1010" stroke-width="0.4"/>
<line x1="253.74" y1="522.2" x2="257.46" y2="522.2" stroke="#fff" stroke-width="1.05"/>
<line x1="255.6" y1="520.34" x2="255.6" y2="524.06" stroke="#fff" stroke-width="1.05"/>
<line x1="195.3" y1="490.2" x2="223.2" y2="490.2" stroke="#111" stroke-width="1.3"/>
<polyline points="202,510.1 206.8,510.1 206.8,496.4 214,496.4 214,510.1 218.8,510.1" fill="none" stroke="#111" stroke-width="1.2" stroke-linejoin="round" stroke-linecap="round"/>
<path d="M262.8,477.2 C266,467 269,458.5 276.5,458.5 L330.6,458.5" fill="none" stroke="#111" stroke-width="1.4"/>
<path d="M262.8,509.4 C266,499 269,490.2 276.5,490.2 L330.6,490.2" fill="none" stroke="#111" stroke-width="1.4"/>
<circle cx="273.2" cy="446.3" r="2.3" fill="url(#ion_green)"/>
<circle cx="280.2" cy="444.5" r="2.3" fill="url(#ion_green)"/>
<circle cx="276.9" cy="449.2" r="2.3" fill="url(#ion_green)"/>
<circle cx="284.9" cy="449.2" r="2.3" fill="url(#ion_green)"/>
<circle cx="290.8" cy="447.4" r="2.3" fill="url(#ion_green)"/>
<circle cx="268.9" cy="452.2" r="2.3" fill="url(#ion_green)"/>
<circle cx="274.1" cy="453.6" r="2.3" fill="url(#ion_green)"/>
<circle cx="282.4" cy="452.5" r="2.3" fill="url(#ion_green)"/>
<circle cx="278.4" cy="455.1" r="2.3" fill="url(#ion_green)"/>
<circle cx="287.1" cy="455.1" r="2.3" fill="url(#ion_green)"/>
<circle cx="291.5" cy="453.6" r="2.3" fill="url(#ion_green)"/>
<circle cx="270.7" cy="456.9" r="2.3" fill="url(#ion_green)"/>
<circle cx="265.2" cy="458.2" r="2.3" fill="url(#ion_green)"/>
<text x="278.5" y="438.75" font-family="Liberation Serif" font-size="15.5" text-anchor="start" fill="#000">electron</text>
<text x="285.3" y="529.2" font-family="Liberation Serif" font-size="16" text-anchor="start" fill="#000">ZnO</text>
<text x="357.5" y="448.9" font-family="Liberation Serif" font-size="20.5" text-anchor="start" fill="#000">n</text>
<rect x="366.2" y="454.5" width="152.1" height="56.2" fill="#c8e9ee" stroke="none" stroke-width="1"/>
<rect x="366.2" y="510.7" width="152.1" height="17.5" fill="#b55a62" stroke="none" stroke-width="1"/>
<rect x="366.2" y="491.8" width="24.8" height="18.9" fill="#3d413d" stroke="none" stroke-width="1"/>
<rect x="391" y="491.8" width="38" height="18.9" fill="#f6f6f4" stroke="none" stroke-width="1"/>
<rect x="429" y="491.8" width="25.3" height="18.9" fill="#3d413d" stroke="none" stroke-width="1"/>
<rect x="484.1" y="491.8" width="34.2" height="18.9" fill="#3d413d" stroke="none" stroke-width="1"/>
<text x="378.6" y="508.5" font-family="Liberation Serif" font-size="19" text-anchor="middle" fill="#fff" stroke="#fff" stroke-width="0.5">S</text>
<text x="441.95" y="508.5" font-family="Liberation Serif" font-size="19" text-anchor="middle" fill="#fff" stroke="#fff" stroke-width="0.5">D</text>
<text x="501.5" y="508.5" font-family="Liberation Serif" font-size="19" text-anchor="middle" fill="#fff" stroke="#fff" stroke-width="0.5">G</text>
<line x1="400.8" y1="499.6" x2="405" y2="499.6" stroke="#222" stroke-width="0.75"/>
<line x1="402.9" y1="497.5" x2="402.9" y2="501.7" stroke="#222" stroke-width="0.75"/>
<line x1="416.2" y1="501.5" x2="420.4" y2="501.5" stroke="#222" stroke-width="0.75"/>
<line x1="418.3" y1="499.4" x2="418.3" y2="503.6" stroke="#222" stroke-width="0.75"/>
<circle cx="383.6" cy="481" r="3.1" fill="url(#ion_green)"/>
<line x1="382.05" y1="481" x2="385.15" y2="481" stroke="#2c4a1c" stroke-width="0.9"/>
<circle cx="406.6" cy="474.7" r="3.1" fill="url(#ion_green)"/>
<line x1="405.05" y1="474.7" x2="408.15" y2="474.7" stroke="#2c4a1c" stroke-width="0.9"/>
<circle cx="399.2" cy="484.7" r="3.1" fill="url(#ion_green)"/>
<line x1="397.65" y1="484.7" x2="400.75" y2="484.7" stroke="#2c4a1c" stroke-width="0.9"/>
<circle cx="418.8" cy="485.2" r="3.1" fill="url(#ion_green)"/>
<line x1="417.25" y1="485.2" x2="420.35" y2="485.2" stroke="#2c4a1c" stroke-width="0.9"/>
<circle cx="431.2" cy="478" r="3.1" fill="url(#ion_green)"/>
<line x1="429.65" y1="478" x2="432.75" y2="478" stroke="#2c4a1c" stroke-width="0.9"/>
<circle cx="485.3" cy="471.8" r="3.3" fill="url(#ion_red)" stroke="#9a1010" stroke-width="0.4"/>
<line x1="483.25" y1="471.8" x2="487.35" y2="471.8" stroke="#fff" stroke-width="1.05"/>
<line x1="485.3" y1="469.75" x2="485.3" y2="473.85" stroke="#fff" stroke-width="1.05"/>
<circle cx="497.2" cy="482.2" r="3.3" fill="url(#ion_red)" stroke="#9a1010" stroke-width="0.4"/>
<line x1="495.15" y1="482.2" x2="499.25" y2="482.2" stroke="#fff" stroke-width="1.05"/>
<line x1="497.2" y1="480.15" x2="497.2" y2="484.25" stroke="#fff" stroke-width="1.05"/>
<circle cx="487" cy="486.4" r="3.3" fill="url(#ion_red)" stroke="#9a1010" stroke-width="0.4"/>
<line x1="484.95" y1="486.4" x2="489.05" y2="486.4" stroke="#fff" stroke-width="1.05"/>
<line x1="487" y1="484.35" x2="487" y2="488.45" stroke="#fff" stroke-width="1.05"/>
<circle cx="507.1" cy="485.7" r="3.3" fill="url(#ion_red)" stroke="#9a1010" stroke-width="0.4"/>
<line x1="505.05" y1="485.7" x2="509.15" y2="485.7" stroke="#fff" stroke-width="1.05"/>
<line x1="507.1" y1="483.65" x2="507.1" y2="487.75" stroke="#fff" stroke-width="1.05"/>
<polyline points="493.3,513.2 498.2,513.2 498.2,525.6 504.4,525.6 504.4,513.2 508.9,513.2" fill="none" stroke="#111" stroke-width="1.2" stroke-linejoin="round" stroke-linecap="round"/>
<polygon points="571.1,430.1 610,452.5 610,551 571.1,525.8" fill="#c8e9ee" stroke="none" stroke-width="1"/>
<circle cx="579" cy="447.2" r="3" fill="url(#ion_red)" stroke="#9a1010" stroke-width="0.4"/>
<line x1="577.14" y1="447.2" x2="580.86" y2="447.2" stroke="#fff" stroke-width="1.05"/>
<line x1="579" y1="445.34" x2="579" y2="449.06" stroke="#fff" stroke-width="1.05"/>
<circle cx="579" cy="462.8" r="3" fill="url(#ion_red)" stroke="#9a1010" stroke-width="0.4"/>
<line x1="577.14" y1="462.8" x2="580.86" y2="462.8" stroke="#fff" stroke-width="1.05"/>
<line x1="579" y1="460.94" x2="579" y2="464.66" stroke="#fff" stroke-width="1.05"/>
<circle cx="579" cy="477.2" r="3" fill="url(#ion_red)" stroke="#9a1010" stroke-width="0.4"/>
<line x1="577.14" y1="477.2" x2="580.86" y2="477.2" stroke="#fff" stroke-width="1.05"/>
<line x1="579" y1="475.34" x2="579" y2="479.06" stroke="#fff" stroke-width="1.05"/>
<circle cx="579" cy="490.9" r="3" fill="url(#ion_red)" stroke="#9a1010" stroke-width="0.4"/>
<line x1="577.14" y1="490.9" x2="580.86" y2="490.9" stroke="#fff" stroke-width="1.05"/>
<line x1="579" y1="489.04" x2="579" y2="492.76" stroke="#fff" stroke-width="1.05"/>
<circle cx="579" cy="506.5" r="3" fill="url(#ion_red)" stroke="#9a1010" stroke-width="0.4"/>
<line x1="577.14" y1="506.5" x2="580.86" y2="506.5" stroke="#fff" stroke-width="1.05"/>
<line x1="579" y1="504.64" x2="579" y2="508.36" stroke="#fff" stroke-width="1.05"/>
<circle cx="579" cy="522.9" r="3" fill="url(#ion_red)" stroke="#9a1010" stroke-width="0.4"/>
<line x1="577.14" y1="522.9" x2="580.86" y2="522.9" stroke="#fff" stroke-width="1.05"/>
<line x1="579" y1="521.04" x2="579" y2="524.76" stroke="#fff" stroke-width="1.05"/>
<line x1="547" y1="484.9" x2="571.1" y2="484.9" stroke="#111" stroke-width="1.3"/>
<polyline points="553,491.6 557.8,491.6 557.8,504.6 563.8,504.6 563.8,491.6 568.7,491.6" fill="none" stroke="#111" stroke-width="1.2" stroke-linejoin="round" stroke-linecap="round"/>
<path d="M610,468.1 C613,478 616,486.5 624,486.5 L678.8,486.5" fill="none" stroke="#111" stroke-width="1.4"/>
<path d="M610,500 C613,510 616,518.6 624,518.6 L678.8,518.6" fill="none" stroke="#111" stroke-width="1.4"/>
<circle cx="649.9" cy="480.6" r="2.3" fill="url(#ion_green)"/>
<circle cx="661.7" cy="482" r="2.3" fill="url(#ion_green)"/>
<circle cx="671.5" cy="480.6" r="2.3" fill="url(#ion_green)"/>
<text x="622" y="462.8" font-family="Liberation Serif" font-size="15.5" text-anchor="start" fill="#000">electron</text>
<text x="630.5" y="548.7" font-family="Liberation Serif" font-size="16" text-anchor="start" fill="#000">ZnO</text>
</svg>
</body></html>
